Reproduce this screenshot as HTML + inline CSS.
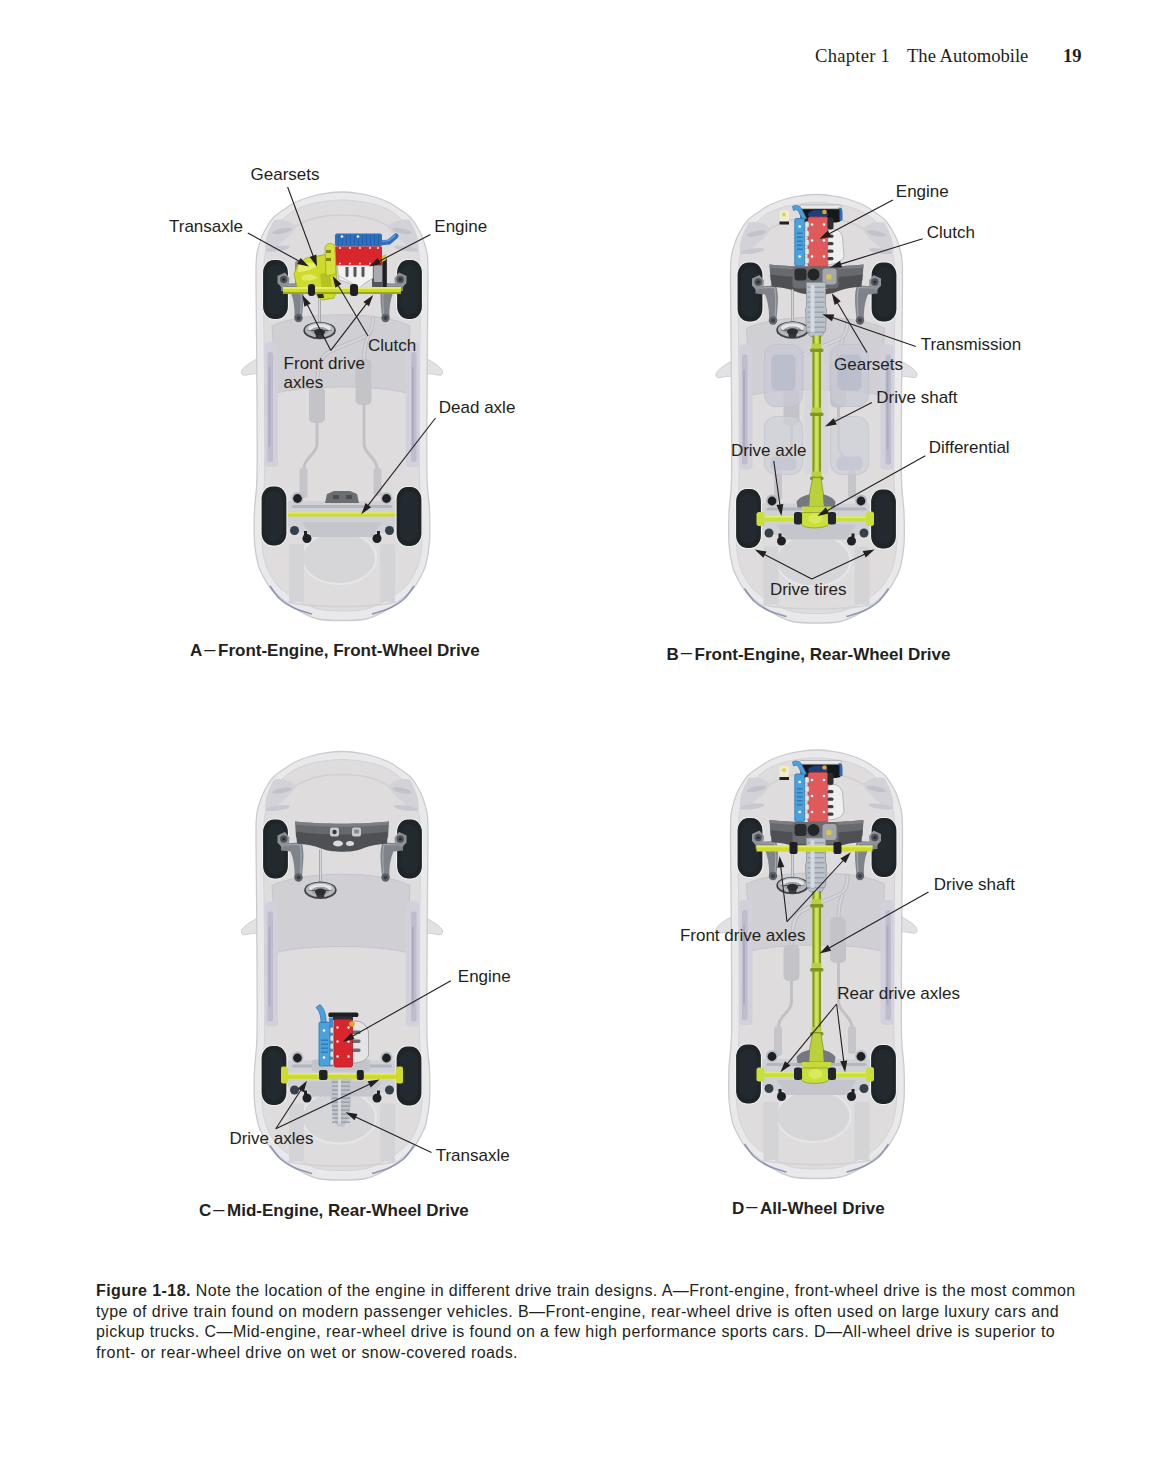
<!DOCTYPE html>
<html><head><meta charset="utf-8"><title>Chapter 1 The Automobile</title>
<style>
html,body{margin:0;padding:0;background:#fff;}
body{width:1156px;height:1479px;position:relative;overflow:hidden;font-family:"Liberation Sans",sans-serif;color:#231f20;}
.hdr{position:absolute;top:45px;font-family:"Liberation Serif",serif;font-size:18.6px;line-height:22px;white-space:nowrap;color:#231f20;}
.cap{position:absolute;left:96px;top:1281px;font-size:16px;line-height:20.6px;letter-spacing:0.42px;white-space:nowrap;color:#231f20;}
</style></head><body>
<div class="hdr" style="left:815px;letter-spacing:0.25px">Chapter 1</div><div class="hdr" style="left:907px">The Automobile</div><div class="hdr" style="left:1063px;font-weight:bold">19</div>
<svg width="1156" height="1479" viewBox="0 0 1156 1479" style="position:absolute;left:0;top:0" font-family="Liberation Sans, sans-serif" fill="#231f20"><g transform="translate(342,192)"><path d="M-80,166 C-82,164.5 -88.7,169 -92,171 C-95.3,173 -98.8,176 -100,178 C-101.2,180 -100.7,182.3 -99,183 C-97.3,183.7 -93.2,182.5 -90,182 C-86.8,181.5 -81.7,182.7 -80,180 C-78.3,177.3 -78,167.5 -80,166Z" fill="#e2e1e3" stroke="#cfcfd3" stroke-width="1"/><path d="M80,166 C82,164.5 88.7,169 92,171 C95.3,173 98.8,176 100,178 C101.2,180 100.7,182.3 99,183 C97.3,183.7 93.2,182.5 90,182 C86.8,181.5 81.7,182.7 80,180 C78.3,177.3 78,167.5 80,166Z" fill="#e2e1e3" stroke="#cfcfd3" stroke-width="1"/><path d="M0,0 C-5.3,0 -10.8,0.6 -16,1.3 C-21.2,2 -25.8,3 -31,4.5 C-36.2,6 -42.5,8.3 -47,10.5 C-51.5,12.7 -54.5,15.1 -58,17.5 C-61.5,19.9 -65.3,22.4 -68,25 C-70.7,27.6 -72.2,30.2 -74,33 C-75.8,35.8 -77.6,39.1 -79,42 C-80.4,44.9 -81.3,47.8 -82.2,50.6 C-83.1,53.4 -83.9,56.1 -84.5,59 C-85.1,61.9 -85.5,62.8 -85.7,68 C-86,73.2 -86,78 -86,90 C-86,102 -85.7,120 -85.5,140 C-85.3,160 -85.1,185.8 -85,210 C-84.9,234.2 -84.6,267 -85,285 C-85.4,303 -87.1,307.2 -87.5,318 C-87.9,328.8 -88.1,341 -87.5,350 C-86.9,359 -85.4,366.3 -84,372 C-82.6,377.7 -81.2,379.8 -79,384 C-76.8,388.2 -74.5,393 -70.5,397.5 C-66.5,402 -59.9,407.2 -55,411 C-50.1,414.8 -46.2,417.3 -41,420 C-35.8,422.7 -30.8,425.6 -24,427 C-17.2,428.4 -8,428.5 0,428.5 C8,428.5 17.2,428.4 24,427 C30.8,425.6 35.8,422.7 41,420 C46.2,417.3 50.1,414.8 55,411 C59.9,407.2 66.5,402 70.5,397.5 C74.5,393 76.8,388.2 79,384 C81.2,379.8 82.6,377.7 84,372 C85.4,366.3 86.9,359 87.5,350 C88.1,341 87.9,328.8 87.5,318 C87.1,307.2 85.4,303 85,285 C84.6,267 84.9,234.2 85,210 C85.1,185.8 85.3,160 85.5,140 C85.7,120 86,102 86,90 C86,78 86,73.2 85.7,68 C85.5,62.8 85.1,61.9 84.5,59 C83.9,56.1 83.1,53.4 82.2,50.6 C81.3,47.8 80.4,44.9 79,42 C77.6,39.1 75.8,35.8 74,33 C72.2,30.2 70.7,27.6 68,25 C65.3,22.4 61.5,19.9 58,17.5 C54.5,15.1 51.5,12.7 47,10.5 C42.5,8.3 36.2,6 31,4.5 C25.8,3 21.2,2 16,1.3 C10.8,0.6 5.3,0 0,0Z" fill="#e9e8ea" stroke="#cbcbcf" stroke-width="1.3"/><path d="M0,8 C-6,8 -12.5,8.8 -18,9.5 C-23.5,10.2 -28.2,11.1 -33,12.5 C-37.8,13.9 -42.8,15.8 -47,18 C-51.2,20.2 -54.8,23.2 -58,26 C-61.2,28.8 -63.7,31.7 -66,35 C-68.3,38.3 -70.3,42.2 -72,46 C-73.7,49.8 -75,53.7 -76,58 C-77,62.3 -77.5,65.8 -78,72 C-78.5,78.2 -79,83.7 -79,95 C-79,106.3 -78.2,120.8 -78,140 C-77.8,159.2 -77.6,185.8 -77.5,210 C-77.4,234.2 -77.1,267 -77.5,285 C-77.9,303 -79.6,307.2 -80,318 C-80.4,328.8 -80.5,341.3 -80,350 C-79.5,358.7 -78.5,364.3 -77,370 C-75.5,375.7 -73.3,379.8 -71,384 C-68.7,388.2 -66.5,391.5 -63,395 C-59.5,398.5 -54.3,402.2 -50,405 C-45.7,407.8 -41.7,409.9 -37,412 C-32.3,414.1 -28.2,416.3 -22,417.5 C-15.8,418.7 -7.3,419 0,419 C7.3,419 15.8,418.7 22,417.5 C28.2,416.3 32.3,414.1 37,412 C41.7,409.9 45.7,407.8 50,405 C54.3,402.2 59.5,398.5 63,395 C66.5,391.5 68.7,388.2 71,384 C73.3,379.8 75.5,375.7 77,370 C78.5,364.3 79.5,358.7 80,350 C80.5,341.3 80.4,328.8 80,318 C79.6,307.2 77.9,303 77.5,285 C77.1,267 77.4,234.2 77.5,210 C77.6,185.8 77.8,159.2 78,140 C78.2,120.8 79,106.3 79,95 C79,83.7 78.5,78.2 78,72 C77.5,65.8 77,62.3 76,58 C75,53.7 73.7,49.8 72,46 C70.3,42.2 68.3,38.3 66,35 C63.7,31.7 61.2,28.8 58,26 C54.8,23.2 51.2,20.2 47,18 C42.8,15.8 37.8,13.9 33,12.5 C28.2,11.1 23.5,10.2 18,9.5 C12.5,8.8 6,8 0,8Z" fill="#dedcdd" stroke="#d3d2d6" stroke-width="1"/><path d="M-68,58 C-65.3,54.7 -58.8,43.3 -52,38 C-45.2,32.7 -35.7,28.5 -27,26 C-18.3,23.5 -9,23 0,23 C9,23 18.3,23.5 27,26 C35.7,28.5 45.2,32.7 52,38 C58.8,43.3 65.3,54.7 68,58" fill="none" stroke="#d0cfd3" stroke-width="1.5"/><path d="M-68,28 C-60,26 -50,29 -46,35 C-50,42 -58,50 -76,60 C-78,54 -76,44 -72,36 Z" fill="#d3d2d8" /><ellipse cx="-60" cy="39" rx="10" ry="2.6" fill="#c3c2cb" transform="rotate(-12 -60 39)"/><ellipse cx="-64" cy="56.5" rx="12" ry="2.6" fill="#c9c8d0" transform="rotate(-8 -64 56.5)"/><path d="M68,28 C60,26 50,29 46,35 C50,42 58,50 76,60 C78,54 76,44 72,36 Z" fill="#d3d2d8" /><ellipse cx="60" cy="39" rx="10" ry="2.6" fill="#c3c2cb" transform="rotate(12 60 39)"/><ellipse cx="64" cy="56.5" rx="12" ry="2.6" fill="#c9c8d0" transform="rotate(8 64 56.5)"/><path d="M-70,134 C-40,119 40,119 68,134 L65,201 C35,193 -35,193 -66,201 Z" fill="#d0cfd3" stroke="#c6c5ca" stroke-width="1"/><rect x="-77" y="150" width="13" height="125" rx="4" fill="#d1d0db" /><rect x="-74.5" y="160" width="5.5" height="110" rx="2.5" fill="#bebccd" /><rect x="-73.5" y="175" width="2" height="80" rx="1" fill="#aeabc2" /><rect x="64" y="150" width="13" height="125" rx="4" fill="#d1d0db" /><rect x="69" y="160" width="5.5" height="110" rx="2.5" fill="#bebccd" /><rect x="70" y="175" width="2" height="80" rx="1" fill="#aeabc2" /><ellipse cx="-3" cy="366" rx="37" ry="26" fill="#d6d5d8" stroke="#e6e6e8" stroke-width="2"/><rect x="-53" y="352" width="15" height="58" rx="2" fill="#d4d3d6" /><rect x="38" y="352" width="15" height="58" rx="2" fill="#d4d3d6" /><path d="M-72,394 C-70.3,396.2 -66,403.3 -62,407 C-58,410.7 -53.3,413.5 -48,416 C-42.7,418.5 -33,421 -30,422" fill="none" stroke="#7d87ac" stroke-width="1.6" opacity="0.85"/><path d="M72,394 C70.3,396.2 66,403.3 62,407 C58,410.7 53.3,413.5 48,416 C42.7,418.5 33,421 30,422" fill="none" stroke="#7d87ac" stroke-width="1.6" opacity="0.85"/><path d="M-54,410 C-30,416 30,416 54,410" fill="none" stroke="#d2d1d5" stroke-width="1.5"/><path d="M-25,196 C-25,180 -22,166 -16,162 C-8,156 12,150 24,144 C30,141 31,134 31,126" fill="none" stroke="#bdbcc2" stroke-width="4" stroke-linecap="round"/><path d="M-25,196 C-25,180 -22,166 -16,162 C-8,156 12,150 24,144 C30,141 31,134 31,126" fill="none" stroke="#d6d5d9" stroke-width="2" stroke-linecap="round"/><path d="M22,168 C22,158 24,150 26,145" fill="none" stroke="#bdbcc2" stroke-width="4" stroke-linecap="round"/><path d="M22,168 C22,158 24,150 26,145" fill="none" stroke="#d6d5d9" stroke-width="2" stroke-linecap="round"/><rect x="-33" y="195" width="16" height="36" rx="5" fill="#c4c3c7" /><rect x="13.5" y="167" width="16" height="46" rx="5" fill="#c4c3c7" /><path d="M-25,231 L-25,252 C-25,262 -38,266 -38,276" fill="none" stroke="#c2c1c5" stroke-width="3" stroke-linecap="round"/><path d="M22,213 L22,252 C22,262 35,266 35,276" fill="none" stroke="#c2c1c5" stroke-width="3" stroke-linecap="round"/><rect x="-42.5" y="276" width="8" height="30" rx="3" fill="#c6c5c9" /><rect x="31.5" y="276" width="8" height="28" rx="3" fill="#c6c5c9" /><path d="M-55,309 L55,309 L57,318 L57,334 L40,341 L-40,341 L-57,334 L-57,318 Z" fill="#cfd1d6" /><path d="M-40,330 L40,330 L30,345 L-30,345 Z" fill="#c4c6cc" /><rect x="-50" y="313" width="100" height="3" rx="1.5" fill="#b3b6bd" /><path d="M-17,311 L-15,302 L-8,299 L8,299 L15,302 L17,311 Z" fill="#6c6d71" /><rect x="-9" y="303" width="6" height="4" rx="0" fill="#4c4d51" /><rect x="4" y="303" width="6" height="4" rx="0" fill="#4c4d51" /><circle cx="-44.5" cy="306" r="6" fill="#b9bcc2" /><circle cx="-44.5" cy="306.5" r="4.4" fill="#1d2125" /><circle cx="-47.5" cy="338.5" r="4.5" fill="#34404a" /><circle cx="-35" cy="346.5" r="4.5" fill="#1d2125" /><rect x="-38" y="339" width="3" height="4" rx="0" fill="#1d2125" /><circle cx="44.5" cy="306" r="6" fill="#b9bcc2" /><circle cx="44.5" cy="306.5" r="4.4" fill="#1d2125" /><circle cx="47.5" cy="338.5" r="4.5" fill="#34404a" /><circle cx="35" cy="346.5" r="4.5" fill="#1d2125" /><rect x="35" y="339" width="3" height="4" rx="0" fill="#1d2125" /><rect x="-60" y="320.5" width="118" height="4" rx="0" fill="#cfdb2c" /><rect x="-60" y="320.5" width="118" height="1.3" rx="0" fill="#e4ec60" /><rect x="-79.5" y="67.5" width="26" height="60" rx="11" ry="13" fill="#1f2427" stroke="#eef2f2" stroke-width="1.2"/><rect x="-75.5" y="72.5" width="18" height="50" rx="8" ry="10" fill="#232a2f"/><rect x="54.5" y="67.5" width="26" height="60" rx="11" ry="13" fill="#1f2427" stroke="#eef2f2" stroke-width="1.2"/><rect x="58.5" y="72.5" width="18" height="50" rx="8" ry="10" fill="#232a2f"/><rect x="-81" y="294" width="26" height="60" rx="11" ry="13" fill="#1f2427" stroke="#eef2f2" stroke-width="1.2"/><rect x="-77" y="299" width="18" height="50" rx="8" ry="10" fill="#232a2f"/><rect x="54" y="294.5" width="26" height="60" rx="11" ry="13" fill="#1f2427" stroke="#eef2f2" stroke-width="1.2"/><rect x="58" y="299.5" width="18" height="50" rx="8" ry="10" fill="#232a2f"/><path d="M-61,92 L-40.5,91 C-37.5,99 -38.5,110 -40,124 L-44,129 L-47.5,125 C-47,116 -48.5,107 -51.5,100 L-61,99 Z" fill="#7f838a" /><path d="M-56,93.5 L-42,93 C-40,101 -40.5,110 -41.5,122" fill="none" stroke="#a3a6ac" stroke-width="1.2"/><circle cx="-43.5" cy="126" r="4.2" fill="#5f636a" /><circle cx="-43.5" cy="126" r="2" fill="#3b3e43" /><polygon points="-64.5,84 -57,80.5 -52.5,86 -53,93 -60,96 -64.5,91" fill="#8e9197" /><circle cx="-58.3" cy="87.5" r="3.7" fill="#4f5358" /><circle cx="-58.3" cy="87.5" r="1.6" fill="#2a2d30" /><path d="M61,92 L40.5,91 C37.5,99 38.5,110 40,124 L44,129 L47.5,125 C47,116 48.5,107 51.5,100 L61,99 Z" fill="#7f838a" /><path d="M56,93.5 L42,93 C40,101 40.5,110 41.5,122" fill="none" stroke="#a3a6ac" stroke-width="1.2"/><circle cx="43.5" cy="126" r="4.2" fill="#5f636a" /><circle cx="43.5" cy="126" r="2" fill="#3b3e43" /><polygon points="64.5,84 57,80.5 52.5,86 53,93 60,96 64.5,91" fill="#8e9197" /><circle cx="58.3" cy="87.5" r="3.7" fill="#4f5358" /><circle cx="58.3" cy="87.5" r="1.6" fill="#2a2d30" /><rect x="-23.7" y="98" width="2.6" height="34.5" rx="0" fill="#a2a4a8" /><rect x="-22.8" y="98" width="0.8" height="34.5" rx="0" fill="#e2e3e5" /><ellipse cx="-22.4" cy="138.5" rx="16.2" ry="8.8" fill="#3e4145" /><ellipse cx="-22.4" cy="138" rx="14.6" ry="7.4" fill="#b4b6b9" /><ellipse cx="-22.4" cy="136.3" rx="11.5" ry="4.2" fill="#e4e5e6" /><ellipse cx="-22.4" cy="139" rx="9" ry="4" fill="#9ea0a4" /><path d="M-35.4,139 L-27.4,138 L-25.9,146 L-18.9,146 L-17.4,138 L-9.4,139 Z" fill="#34373b" /><ellipse cx="-22.4" cy="140" rx="5.5" ry="3.2" fill="#2a2d31" /><rect x="-47" y="69" width="11" height="24" rx="2" fill="#8a8c92" /><rect x="30" y="66" width="15" height="30" rx="2" fill="#55575b" /><rect x="32" y="72" width="8" height="18" rx="1" fill="#a9abb0" /><rect x="41" y="66" width="3.5" height="30" rx="1" fill="#1f2124" /><path d="M40,64 L44,62 L44,68 L40,70 Z" fill="#d8c81c" /><path d="M38,51 L47,50 L54,44" fill="none" stroke="#2e6fc2" stroke-width="5" stroke-linecap="round" stroke-linejoin="round"/><path d="M39,49.5 L47,48.5 L53,43.5" fill="none" stroke="#6fa0e0" stroke-width="1.2" stroke-linecap="round"/><rect x="-7" y="41.5" width="47" height="13" rx="2" fill="#2e6fc2" /><rect x="-4" y="43" width="1" height="10" rx="0" fill="#255ea8" /><rect x="0" y="43" width="1" height="10" rx="0" fill="#255ea8" /><rect x="4" y="43" width="1" height="10" rx="0" fill="#255ea8" /><rect x="8" y="43" width="1" height="10" rx="0" fill="#255ea8" /><rect x="12" y="43" width="1" height="10" rx="0" fill="#255ea8" /><rect x="16" y="43" width="1" height="10" rx="0" fill="#255ea8" /><rect x="20" y="43" width="1" height="10" rx="0" fill="#255ea8" /><rect x="24" y="43" width="1" height="10" rx="0" fill="#255ea8" /><rect x="28" y="43" width="1" height="10" rx="0" fill="#255ea8" /><rect x="32" y="43" width="1" height="10" rx="0" fill="#255ea8" /><rect x="36" y="43" width="1" height="10" rx="0" fill="#255ea8" /><circle cx="0" cy="44.5" r="1.2" fill="#fff" /><circle cx="16" cy="44.5" r="1.2" fill="#fff" /><rect x="-7" y="54.5" width="47" height="19" rx="1" fill="#d8262d" /><circle cx="-2" cy="56" r="1.1" fill="#fbd0d0" /><circle cx="-2" cy="71.5" r="1.1" fill="#fbd0d0" /><circle cx="8" cy="56" r="1.1" fill="#fbd0d0" /><circle cx="8" cy="71.5" r="1.1" fill="#fbd0d0" /><circle cx="18" cy="56" r="1.1" fill="#fbd0d0" /><circle cx="18" cy="71.5" r="1.1" fill="#fbd0d0" /><circle cx="28" cy="56" r="1.1" fill="#fbd0d0" /><circle cx="28" cy="71.5" r="1.1" fill="#fbd0d0" /><circle cx="36" cy="56" r="1.1" fill="#fbd0d0" /><circle cx="36" cy="71.5" r="1.1" fill="#fbd0d0" /><path d="M-5,73.5 L31,73.5 L31,86 C26,90 20,92 16,98 C12,92 4,90 -3,88 Z" fill="#f2f2f3" stroke="#a8a8ac" stroke-width="0.8"/><path d="M3.5,75 L3.5,83 C3.5,86 6.5,86 6.5,83 L6.5,75 Z" fill="#55565a" /><path d="M11.5,75 L11.5,83 C11.5,86 14.5,86 14.5,83 L14.5,75 Z" fill="#55565a" /><path d="M19.5,75 L19.5,83 C19.5,86 22.5,86 22.5,83 L22.5,75 Z" fill="#55565a" /><path d="M-3,84 C4,88 10,90 16,96" fill="none" stroke="#c9c9cc" stroke-width="1"/><path d="M-7,60 L-5,96 L-8,106 L-20,108 L-28,101 L-36,96 L-45,95 L-48,82 L-44,72 L-36,66 L-24,64 L-14,62 Z" fill="#cfdb2c" stroke="#9aa818" stroke-width="0.8"/><path d="M-44,74 C-38,70 -30,70 -24,73 C-30,78 -38,80 -44,80 Z" fill="#e6ee6a" /><path d="M-40,84 C-34,81 -28,82 -24,86 C-30,89 -36,89 -40,88 Z" fill="#e2ea60" /><path d="M-22,82 L-12,80 L-10,96 L-20,99 Z" fill="#b6c21e" /><path d="M-26,97 L-20,96 L-18,106 L-24,106 Z" fill="#2a2e18" /><path d="M-17,56 C-17,51 -9,50 -7,54 L-6,82 L-16,84 Z" fill="#d6e03a" stroke="#9aa818" stroke-width="0.7"/><rect x="-16" y="58" width="5" height="3" rx="0" fill="#7d8a14" /><rect x="-16" y="66" width="5" height="3" rx="0" fill="#7d8a14" /><rect x="-59" y="95" width="118" height="7" rx="3" fill="#cfdb2c" /><rect x="-59" y="95" width="118" height="2" rx="0" fill="#e4ec60" /><rect x="-59" y="100" width="118" height="2" rx="0" fill="#9aa818" /><rect x="-34" y="92" width="7" height="12" rx="3" fill="#1d1f22" /><rect x="8" y="92" width="8" height="12" rx="3" fill="#1d1f22" /></g><g transform="translate(816.5,194.5)"><path d="M-80,166 C-82,164.5 -88.7,169 -92,171 C-95.3,173 -98.8,176 -100,178 C-101.2,180 -100.7,182.3 -99,183 C-97.3,183.7 -93.2,182.5 -90,182 C-86.8,181.5 -81.7,182.7 -80,180 C-78.3,177.3 -78,167.5 -80,166Z" fill="#e2e1e3" stroke="#cfcfd3" stroke-width="1"/><path d="M80,166 C82,164.5 88.7,169 92,171 C95.3,173 98.8,176 100,178 C101.2,180 100.7,182.3 99,183 C97.3,183.7 93.2,182.5 90,182 C86.8,181.5 81.7,182.7 80,180 C78.3,177.3 78,167.5 80,166Z" fill="#e2e1e3" stroke="#cfcfd3" stroke-width="1"/><path d="M0,0 C-5.3,0 -10.8,0.6 -16,1.3 C-21.2,2 -25.8,3 -31,4.5 C-36.2,6 -42.5,8.3 -47,10.5 C-51.5,12.7 -54.5,15.1 -58,17.5 C-61.5,19.9 -65.3,22.4 -68,25 C-70.7,27.6 -72.2,30.2 -74,33 C-75.8,35.8 -77.6,39.1 -79,42 C-80.4,44.9 -81.3,47.8 -82.2,50.6 C-83.1,53.4 -83.9,56.1 -84.5,59 C-85.1,61.9 -85.5,62.8 -85.7,68 C-86,73.2 -86,78 -86,90 C-86,102 -85.7,120 -85.5,140 C-85.3,160 -85.1,185.8 -85,210 C-84.9,234.2 -84.6,267 -85,285 C-85.4,303 -87.1,307.2 -87.5,318 C-87.9,328.8 -88.1,341 -87.5,350 C-86.9,359 -85.4,366.3 -84,372 C-82.6,377.7 -81.2,379.8 -79,384 C-76.8,388.2 -74.5,393 -70.5,397.5 C-66.5,402 -59.9,407.2 -55,411 C-50.1,414.8 -46.2,417.3 -41,420 C-35.8,422.7 -30.8,425.6 -24,427 C-17.2,428.4 -8,428.5 0,428.5 C8,428.5 17.2,428.4 24,427 C30.8,425.6 35.8,422.7 41,420 C46.2,417.3 50.1,414.8 55,411 C59.9,407.2 66.5,402 70.5,397.5 C74.5,393 76.8,388.2 79,384 C81.2,379.8 82.6,377.7 84,372 C85.4,366.3 86.9,359 87.5,350 C88.1,341 87.9,328.8 87.5,318 C87.1,307.2 85.4,303 85,285 C84.6,267 84.9,234.2 85,210 C85.1,185.8 85.3,160 85.5,140 C85.7,120 86,102 86,90 C86,78 86,73.2 85.7,68 C85.5,62.8 85.1,61.9 84.5,59 C83.9,56.1 83.1,53.4 82.2,50.6 C81.3,47.8 80.4,44.9 79,42 C77.6,39.1 75.8,35.8 74,33 C72.2,30.2 70.7,27.6 68,25 C65.3,22.4 61.5,19.9 58,17.5 C54.5,15.1 51.5,12.7 47,10.5 C42.5,8.3 36.2,6 31,4.5 C25.8,3 21.2,2 16,1.3 C10.8,0.6 5.3,0 0,0Z" fill="#e9e8ea" stroke="#cbcbcf" stroke-width="1.3"/><path d="M0,8 C-6,8 -12.5,8.8 -18,9.5 C-23.5,10.2 -28.2,11.1 -33,12.5 C-37.8,13.9 -42.8,15.8 -47,18 C-51.2,20.2 -54.8,23.2 -58,26 C-61.2,28.8 -63.7,31.7 -66,35 C-68.3,38.3 -70.3,42.2 -72,46 C-73.7,49.8 -75,53.7 -76,58 C-77,62.3 -77.5,65.8 -78,72 C-78.5,78.2 -79,83.7 -79,95 C-79,106.3 -78.2,120.8 -78,140 C-77.8,159.2 -77.6,185.8 -77.5,210 C-77.4,234.2 -77.1,267 -77.5,285 C-77.9,303 -79.6,307.2 -80,318 C-80.4,328.8 -80.5,341.3 -80,350 C-79.5,358.7 -78.5,364.3 -77,370 C-75.5,375.7 -73.3,379.8 -71,384 C-68.7,388.2 -66.5,391.5 -63,395 C-59.5,398.5 -54.3,402.2 -50,405 C-45.7,407.8 -41.7,409.9 -37,412 C-32.3,414.1 -28.2,416.3 -22,417.5 C-15.8,418.7 -7.3,419 0,419 C7.3,419 15.8,418.7 22,417.5 C28.2,416.3 32.3,414.1 37,412 C41.7,409.9 45.7,407.8 50,405 C54.3,402.2 59.5,398.5 63,395 C66.5,391.5 68.7,388.2 71,384 C73.3,379.8 75.5,375.7 77,370 C78.5,364.3 79.5,358.7 80,350 C80.5,341.3 80.4,328.8 80,318 C79.6,307.2 77.9,303 77.5,285 C77.1,267 77.4,234.2 77.5,210 C77.6,185.8 77.8,159.2 78,140 C78.2,120.8 79,106.3 79,95 C79,83.7 78.5,78.2 78,72 C77.5,65.8 77,62.3 76,58 C75,53.7 73.7,49.8 72,46 C70.3,42.2 68.3,38.3 66,35 C63.7,31.7 61.2,28.8 58,26 C54.8,23.2 51.2,20.2 47,18 C42.8,15.8 37.8,13.9 33,12.5 C28.2,11.1 23.5,10.2 18,9.5 C12.5,8.8 6,8 0,8Z" fill="#dedcdd" stroke="#d3d2d6" stroke-width="1"/><path d="M-68,58 C-65.3,54.7 -58.8,43.3 -52,38 C-45.2,32.7 -35.7,28.5 -27,26 C-18.3,23.5 -9,23 0,23 C9,23 18.3,23.5 27,26 C35.7,28.5 45.2,32.7 52,38 C58.8,43.3 65.3,54.7 68,58" fill="none" stroke="#d0cfd3" stroke-width="1.5"/><path d="M-68,28 C-60,26 -50,29 -46,35 C-50,42 -58,50 -76,60 C-78,54 -76,44 -72,36 Z" fill="#d3d2d8" /><ellipse cx="-60" cy="39" rx="10" ry="2.6" fill="#c3c2cb" transform="rotate(-12 -60 39)"/><ellipse cx="-64" cy="56.5" rx="12" ry="2.6" fill="#c9c8d0" transform="rotate(-8 -64 56.5)"/><path d="M68,28 C60,26 50,29 46,35 C50,42 58,50 76,60 C78,54 76,44 72,36 Z" fill="#d3d2d8" /><ellipse cx="60" cy="39" rx="10" ry="2.6" fill="#c3c2cb" transform="rotate(12 60 39)"/><ellipse cx="64" cy="56.5" rx="12" ry="2.6" fill="#c9c8d0" transform="rotate(8 64 56.5)"/><path d="M-70,134 C-40,119 40,119 68,134 L65,201 C35,193 -35,193 -66,201 Z" fill="#d0cfd3" stroke="#c6c5ca" stroke-width="1"/><rect x="-77" y="150" width="13" height="125" rx="4" fill="#d1d0db" /><rect x="-74.5" y="160" width="5.5" height="110" rx="2.5" fill="#bebccd" /><rect x="-73.5" y="175" width="2" height="80" rx="1" fill="#aeabc2" /><rect x="64" y="150" width="13" height="125" rx="4" fill="#d1d0db" /><rect x="69" y="160" width="5.5" height="110" rx="2.5" fill="#bebccd" /><rect x="70" y="175" width="2" height="80" rx="1" fill="#aeabc2" /><ellipse cx="-3" cy="366" rx="37" ry="26" fill="#d6d5d8" stroke="#e6e6e8" stroke-width="2"/><rect x="-53" y="352" width="15" height="58" rx="2" fill="#d4d3d6" /><rect x="38" y="352" width="15" height="58" rx="2" fill="#d4d3d6" /><path d="M-72,394 C-70.3,396.2 -66,403.3 -62,407 C-58,410.7 -53.3,413.5 -48,416 C-42.7,418.5 -33,421 -30,422" fill="none" stroke="#7d87ac" stroke-width="1.6" opacity="0.85"/><path d="M72,394 C70.3,396.2 66,403.3 62,407 C58,410.7 53.3,413.5 48,416 C42.7,418.5 33,421 30,422" fill="none" stroke="#7d87ac" stroke-width="1.6" opacity="0.85"/><path d="M-54,410 C-30,416 30,416 54,410" fill="none" stroke="#d2d1d5" stroke-width="1.5"/><path d="M-25,196 C-25,180 -22,166 -16,162 C-8,156 12,150 24,144 C30,141 31,134 31,126" fill="none" stroke="#bdbcc2" stroke-width="4" stroke-linecap="round"/><path d="M-25,196 C-25,180 -22,166 -16,162 C-8,156 12,150 24,144 C30,141 31,134 31,126" fill="none" stroke="#d6d5d9" stroke-width="2" stroke-linecap="round"/><path d="M22,168 C22,158 24,150 26,145" fill="none" stroke="#bdbcc2" stroke-width="4" stroke-linecap="round"/><path d="M22,168 C22,158 24,150 26,145" fill="none" stroke="#d6d5d9" stroke-width="2" stroke-linecap="round"/><rect x="-33" y="195" width="16" height="36" rx="5" fill="#c4c3c7" /><rect x="13.5" y="167" width="16" height="46" rx="5" fill="#c4c3c7" /><path d="M-25,231 L-25,252 C-25,262 -38,266 -38,276" fill="none" stroke="#c2c1c5" stroke-width="3" stroke-linecap="round"/><path d="M22,213 L22,252 C22,262 35,266 35,276" fill="none" stroke="#c2c1c5" stroke-width="3" stroke-linecap="round"/><rect x="-42.5" y="276" width="8" height="30" rx="3" fill="#c6c5c9" /><rect x="31.5" y="276" width="8" height="28" rx="3" fill="#c6c5c9" /><rect x="-52" y="150" width="38" height="62" rx="12" fill="#c9cad6" opacity="0.75" stroke="#bfc1cf" stroke-width="1.2"/><rect x="-45" y="160" width="24" height="36" rx="5" fill="#b7bbcb" opacity="0.8"/><rect x="-52" y="222" width="38" height="58" rx="12" fill="#cfd0da" opacity="0.7" stroke="#c2c3d0" stroke-width="1.2"/><rect x="-46" y="262" width="26" height="14" rx="5" fill="#c3c5d2" opacity="0.8"/><rect x="14" y="150" width="38" height="62" rx="12" fill="#c9cad6" opacity="0.75" stroke="#bfc1cf" stroke-width="1.2"/><rect x="21" y="160" width="24" height="36" rx="5" fill="#b7bbcb" opacity="0.8"/><rect x="14" y="222" width="38" height="58" rx="12" fill="#cfd0da" opacity="0.7" stroke="#c2c3d0" stroke-width="1.2"/><rect x="20" y="262" width="26" height="14" rx="5" fill="#c3c5d2" opacity="0.8"/><rect x="-12" y="150" width="24" height="130" rx="4" fill="#d3d4dc" opacity="0.6"/><path d="M-55,309 L55,309 L57,318 L57,334 L40,341 L-40,341 L-57,334 L-57,318 Z" fill="#cfd1d6" /><path d="M-40,330 L40,330 L30,345 L-30,345 Z" fill="#c4c6cc" /><rect x="-50" y="313" width="100" height="3" rx="1.5" fill="#b3b6bd" /><circle cx="-44.5" cy="306" r="6" fill="#b9bcc2" /><circle cx="-44.5" cy="306.5" r="4.4" fill="#1d2125" /><circle cx="-47.5" cy="338.5" r="4.5" fill="#34404a" /><circle cx="-35" cy="346.5" r="4.5" fill="#1d2125" /><rect x="-38" y="339" width="3" height="4" rx="0" fill="#1d2125" /><circle cx="44.5" cy="306" r="6" fill="#b9bcc2" /><circle cx="44.5" cy="306.5" r="4.4" fill="#1d2125" /><circle cx="47.5" cy="338.5" r="4.5" fill="#34404a" /><circle cx="35" cy="346.5" r="4.5" fill="#1d2125" /><rect x="35" y="339" width="3" height="4" rx="0" fill="#1d2125" /><rect x="-79.5" y="67.5" width="26" height="60" rx="11" ry="13" fill="#1f2427" stroke="#eef2f2" stroke-width="1.2"/><rect x="-75.5" y="72.5" width="18" height="50" rx="8" ry="10" fill="#232a2f"/><rect x="54.5" y="67.5" width="26" height="60" rx="11" ry="13" fill="#1f2427" stroke="#eef2f2" stroke-width="1.2"/><rect x="58.5" y="72.5" width="18" height="50" rx="8" ry="10" fill="#232a2f"/><rect x="-81" y="294" width="26" height="60" rx="11" ry="13" fill="#1f2427" stroke="#eef2f2" stroke-width="1.2"/><rect x="-77" y="299" width="18" height="50" rx="8" ry="10" fill="#232a2f"/><rect x="54" y="294.5" width="26" height="60" rx="11" ry="13" fill="#1f2427" stroke="#eef2f2" stroke-width="1.2"/><rect x="58" y="299.5" width="18" height="50" rx="8" ry="10" fill="#232a2f"/><path d="M-61,92 L-40.5,91 C-37.5,99 -38.5,110 -40,124 L-44,129 L-47.5,125 C-47,116 -48.5,107 -51.5,100 L-61,99 Z" fill="#7f838a" /><path d="M-56,93.5 L-42,93 C-40,101 -40.5,110 -41.5,122" fill="none" stroke="#a3a6ac" stroke-width="1.2"/><circle cx="-43.5" cy="126" r="4.2" fill="#5f636a" /><circle cx="-43.5" cy="126" r="2" fill="#3b3e43" /><polygon points="-64.5,84 -57,80.5 -52.5,86 -53,93 -60,96 -64.5,91" fill="#8e9197" /><circle cx="-58.3" cy="87.5" r="3.7" fill="#4f5358" /><circle cx="-58.3" cy="87.5" r="1.6" fill="#2a2d30" /><path d="M61,92 L40.5,91 C37.5,99 38.5,110 40,124 L44,129 L47.5,125 C47,116 48.5,107 51.5,100 L61,99 Z" fill="#7f838a" /><path d="M56,93.5 L42,93 C40,101 40.5,110 41.5,122" fill="none" stroke="#a3a6ac" stroke-width="1.2"/><circle cx="43.5" cy="126" r="4.2" fill="#5f636a" /><circle cx="43.5" cy="126" r="2" fill="#3b3e43" /><polygon points="64.5,84 57,80.5 52.5,86 53,93 60,96 64.5,91" fill="#8e9197" /><circle cx="58.3" cy="87.5" r="3.7" fill="#4f5358" /><circle cx="58.3" cy="87.5" r="1.6" fill="#2a2d30" /><path d="M-47,70 C-20,73 20,73 47,70 L46,86 C20,89 -20,89 -46,86 Z" fill="#68696d" /><path d="M-46,80 C-20,84 20,84 46,80 L45,92 C33,93 25,95 18,98 C10,101 -10,101 -18,98 C-25,95 -33,93 -45,92 Z" fill="#4f5054" /><path d="M-47,70 C-20,73 20,73 47,70 L47,73 C20,76 -20,76 -47,73 Z" fill="#7d7e82" /><rect x="-12" y="76" width="9" height="9" rx="2" fill="#c9cacd" /><circle cx="-7.5" cy="80.5" r="2.2" fill="#35373a" /><rect x="10" y="76" width="9" height="9" rx="2" fill="#c9cacd" /><rect x="12" y="78" width="5" height="4" rx="1" fill="#8a8b8f" /><ellipse cx="-4" cy="92" rx="5" ry="3" fill="#dadbdd" /><ellipse cx="8" cy="92" rx="4" ry="2.5" fill="#dadbdd" /><rect x="-25.3" y="95" width="2.6" height="34.5" rx="0" fill="#a2a4a8" /><rect x="-24.4" y="95" width="0.8" height="34.5" rx="0" fill="#e2e3e5" /><ellipse cx="-24" cy="135.5" rx="16.2" ry="8.8" fill="#3e4145" /><ellipse cx="-24" cy="135" rx="14.6" ry="7.4" fill="#b4b6b9" /><ellipse cx="-24" cy="133.3" rx="11.5" ry="4.2" fill="#e4e5e6" /><ellipse cx="-24" cy="136" rx="9" ry="4" fill="#9ea0a4" /><path d="M-37,136 L-29,135 L-27.5,143 L-20.5,143 L-19,135 L-11,136 Z" fill="#34373b" /><ellipse cx="-24" cy="137" rx="5.5" ry="3.2" fill="#2a2d31" /><path d="M-16,14 L25,14 L25,24 C25,27 22,28 18,28 L-11,28 C-14,28 -16,26 -16,23 Z" fill="#15181b" /><rect x="-17" y="10.5" width="42" height="3.8" rx="1.9" fill="#e9e9eb" stroke="#9c9ca0" stroke-width="0.6"/><path d="M22,13 C26,13 26,16 26,20 L26,26 L23,26 L23,16 Z" fill="#2d6cb8" /><rect x="-37" y="16" width="9.5" height="11" rx="1" fill="#efecd2" /><circle cx="-32.5" cy="20" r="2" fill="#e2d44a" /><rect x="-37" y="27" width="9.5" height="3" rx="0" fill="#222" /><path d="M-24,12 C-21,10 -17,11 -15,14 L-11,22 L-10,24 L-14,25 L-18,17 C-19,15 -21,15 -23,16 Z" fill="#4aa2dc" stroke="#2c76b0" stroke-width="0.7"/><rect x="-21.7" y="24" width="9.8" height="47.5" rx="1.5" fill="#4aa2dc" stroke="#2c76b0" stroke-width="0.8"/><rect x="-19.5" y="38" width="5.5" height="1.5" rx="0" fill="#2e79b6" /><rect x="-19.5" y="42" width="5.5" height="1.5" rx="0" fill="#2e79b6" /><rect x="-19.5" y="46" width="5.5" height="1.5" rx="0" fill="#2e79b6" /><rect x="-19.5" y="50" width="5.5" height="1.5" rx="0" fill="#2e79b6" /><rect x="-19.5" y="54" width="5.5" height="1.5" rx="0" fill="#2e79b6" /><circle cx="-16.8" cy="32" r="1.3" fill="#fff" /><circle cx="-16.8" cy="62" r="1.3" fill="#fff" /><ellipse cx="1.5" cy="20" rx="10" ry="4.5" fill="#1f3f78" /><circle cx="8" cy="17.5" r="2.3" fill="#e3a32c" /><rect x="-8.5" y="22.5" width="20" height="49.5" rx="2" fill="#e05a5c" stroke="#b8383c" stroke-width="0.8"/><circle cx="-4.5" cy="30" r="1.3" fill="#fff" /><circle cx="7.5" cy="30" r="1.3" fill="#fff" /><circle cx="-4.5" cy="46" r="1.3" fill="#fff" /><circle cx="7.5" cy="46" r="1.3" fill="#fff" /><circle cx="-4.5" cy="62" r="1.3" fill="#fff" /><circle cx="7.5" cy="62" r="1.3" fill="#fff" /><rect x="-11.5" y="27" width="4" height="6" rx="1.5" fill="#e4e4e4" stroke="#9a9a9e" stroke-width="0.5"/><rect x="-11.5" y="36" width="4" height="6" rx="1.5" fill="#e4e4e4" stroke="#9a9a9e" stroke-width="0.5"/><rect x="-11.5" y="45" width="4" height="6" rx="1.5" fill="#e4e4e4" stroke="#9a9a9e" stroke-width="0.5"/><rect x="-11.5" y="54" width="4" height="6" rx="1.5" fill="#e4e4e4" stroke="#9a9a9e" stroke-width="0.5"/><rect x="-11.5" y="63" width="4" height="6" rx="1.5" fill="#e4e4e4" stroke="#9a9a9e" stroke-width="0.5"/><path d="M11.5,36 C18,32 24,36 26,42 L27.5,62 C25,68 18,70 11.5,70 Z" fill="#efeff0" stroke="#a9a9ad" stroke-width="0.8"/><rect x="11" y="40" width="6" height="3.2" rx="1.5" fill="#3d3e42" /><rect x="11" y="47.5" width="6" height="3.2" rx="1.5" fill="#3d3e42" /><rect x="11" y="55" width="6" height="3.2" rx="1.5" fill="#3d3e42" /><rect x="11" y="62.5" width="6" height="3.2" rx="1.5" fill="#3d3e42" /><rect x="11" y="23" width="6" height="12" rx="2.5" fill="#2b2d31" /><rect x="-24" y="72" width="46" height="22" rx="4" fill="#6a6c70" /><rect x="-22" y="74" width="12" height="12" rx="3" fill="#2b2d30" /><ellipse cx="-3" cy="80" rx="6" ry="6" fill="#232528" /><rect x="6" y="74" width="14" height="16" rx="3" fill="#a5a7ab" /><rect x="10" y="80" width="5" height="5" rx="1" fill="#d8c84a" /><path d="M-10,88 L9,88 L9,112 L10,114 L9,136 L5,142 L-6,142 L-10,136 L-11,114 L-10,112 Z" fill="#bcc2ca" stroke="#8c939c" stroke-width="0.8"/><rect x="-9" y="92" width="17" height="1.4" rx="0" fill="#9aa1aa" /><rect x="-9" y="97" width="17" height="1.4" rx="0" fill="#9aa1aa" /><rect x="-9" y="102" width="17" height="1.4" rx="0" fill="#9aa1aa" /><rect x="-9" y="107" width="17" height="1.4" rx="0" fill="#9aa1aa" /><rect x="-9" y="112" width="17" height="1.4" rx="0" fill="#9aa1aa" /><rect x="-9" y="117" width="17" height="1.4" rx="0" fill="#9aa1aa" /><rect x="-9" y="122" width="17" height="1.4" rx="0" fill="#9aa1aa" /><rect x="-9" y="127" width="17" height="1.4" rx="0" fill="#9aa1aa" /><rect x="-9" y="132" width="17" height="1.4" rx="0" fill="#9aa1aa" /><rect x="-9" y="137" width="17" height="1.4" rx="0" fill="#9aa1aa" /><rect x="-6" y="90" width="4" height="48" rx="1.5" fill="#d4d9df" /><rect x="-4" y="141" width="8.5" height="149" rx="2" fill="#bcd03c" /><rect x="-4" y="141" width="1.8" height="149" rx="0" fill="#7d952a" /><rect x="2.7" y="141" width="1.8" height="149" rx="0" fill="#7d952a" /><rect x="-1.2" y="141" width="2.5" height="149" rx="0" fill="#d2e262" /><rect x="-6.5" y="154" width="13.5" height="3.5" rx="1.5" fill="#7d952a" /><rect x="-5" y="149" width="10" height="5" rx="1.5" fill="#bcd03c" /><rect x="-6.5" y="218" width="13.5" height="3.5" rx="1.5" fill="#7d952a" /><rect x="-5" y="213" width="10" height="5" rx="1.5" fill="#bcd03c" /><rect x="-6.5" y="282" width="13.5" height="3.5" rx="1.5" fill="#7d952a" /><rect x="-5" y="277" width="10" height="5" rx="1.5" fill="#bcd03c" /><path d="M-3.8,283 L4.3,283 L7,300 L8,312 L-8,312 L-7,300 Z" fill="#bcd03c" stroke="#7d952a" stroke-width="0.8"/><path d="M-20,307 C-16,302 -10,300 -6.5,300 L-7.5,313 L-19,313 Z" fill="#737881" /><path d="M19,307 C15,302 9,300 6.5,300 L7.5,313 L18,313 Z" fill="#737881" /><path d="M-14.8,312 C-14.8,316 -12,318 -12,319 L12,319 C12,318 14.8,316 14.8,312 Z" fill="#c6da3a" /><path d="M-14.8,318 L11.5,318 L12,330 C10,334 -12,335 -14.8,330 Z" fill="#cadf3c" stroke="#8ca024" stroke-width="0.8"/><ellipse cx="-1" cy="324" rx="7" ry="5" fill="#d8ea5a" /><rect x="-52" y="321.5" width="30" height="5.5" rx="0" fill="#cadf3c" /><rect x="19" y="322" width="30" height="5" rx="0" fill="#cadf3c" /><rect x="-52" y="321.5" width="30" height="1.6" rx="0" fill="#e0ee70" /><rect x="19" y="322" width="30" height="1.6" rx="0" fill="#e0ee70" /><rect x="-22.5" y="317.5" width="8" height="12.5" rx="2.5" fill="#22262b" /><rect x="11.5" y="317.5" width="8" height="12.5" rx="2.5" fill="#22262b" /><rect x="-60" y="317.5" width="8" height="14" rx="2.5" fill="#cadf3c" /><rect x="49.5" y="317" width="8" height="14.5" rx="2.5" fill="#cadf3c" /></g><g transform="translate(342,751.5)"><path d="M-80,166 C-82,164.5 -88.7,169 -92,171 C-95.3,173 -98.8,176 -100,178 C-101.2,180 -100.7,182.3 -99,183 C-97.3,183.7 -93.2,182.5 -90,182 C-86.8,181.5 -81.7,182.7 -80,180 C-78.3,177.3 -78,167.5 -80,166Z" fill="#e2e1e3" stroke="#cfcfd3" stroke-width="1"/><path d="M80,166 C82,164.5 88.7,169 92,171 C95.3,173 98.8,176 100,178 C101.2,180 100.7,182.3 99,183 C97.3,183.7 93.2,182.5 90,182 C86.8,181.5 81.7,182.7 80,180 C78.3,177.3 78,167.5 80,166Z" fill="#e2e1e3" stroke="#cfcfd3" stroke-width="1"/><path d="M0,0 C-5.3,0 -10.8,0.6 -16,1.3 C-21.2,2 -25.8,3 -31,4.5 C-36.2,6 -42.5,8.3 -47,10.5 C-51.5,12.7 -54.5,15.1 -58,17.5 C-61.5,19.9 -65.3,22.4 -68,25 C-70.7,27.6 -72.2,30.2 -74,33 C-75.8,35.8 -77.6,39.1 -79,42 C-80.4,44.9 -81.3,47.8 -82.2,50.6 C-83.1,53.4 -83.9,56.1 -84.5,59 C-85.1,61.9 -85.5,62.8 -85.7,68 C-86,73.2 -86,78 -86,90 C-86,102 -85.7,120 -85.5,140 C-85.3,160 -85.1,185.8 -85,210 C-84.9,234.2 -84.6,267 -85,285 C-85.4,303 -87.1,307.2 -87.5,318 C-87.9,328.8 -88.1,341 -87.5,350 C-86.9,359 -85.4,366.3 -84,372 C-82.6,377.7 -81.2,379.8 -79,384 C-76.8,388.2 -74.5,393 -70.5,397.5 C-66.5,402 -59.9,407.2 -55,411 C-50.1,414.8 -46.2,417.3 -41,420 C-35.8,422.7 -30.8,425.6 -24,427 C-17.2,428.4 -8,428.5 0,428.5 C8,428.5 17.2,428.4 24,427 C30.8,425.6 35.8,422.7 41,420 C46.2,417.3 50.1,414.8 55,411 C59.9,407.2 66.5,402 70.5,397.5 C74.5,393 76.8,388.2 79,384 C81.2,379.8 82.6,377.7 84,372 C85.4,366.3 86.9,359 87.5,350 C88.1,341 87.9,328.8 87.5,318 C87.1,307.2 85.4,303 85,285 C84.6,267 84.9,234.2 85,210 C85.1,185.8 85.3,160 85.5,140 C85.7,120 86,102 86,90 C86,78 86,73.2 85.7,68 C85.5,62.8 85.1,61.9 84.5,59 C83.9,56.1 83.1,53.4 82.2,50.6 C81.3,47.8 80.4,44.9 79,42 C77.6,39.1 75.8,35.8 74,33 C72.2,30.2 70.7,27.6 68,25 C65.3,22.4 61.5,19.9 58,17.5 C54.5,15.1 51.5,12.7 47,10.5 C42.5,8.3 36.2,6 31,4.5 C25.8,3 21.2,2 16,1.3 C10.8,0.6 5.3,0 0,0Z" fill="#e9e8ea" stroke="#cbcbcf" stroke-width="1.3"/><path d="M0,8 C-6,8 -12.5,8.8 -18,9.5 C-23.5,10.2 -28.2,11.1 -33,12.5 C-37.8,13.9 -42.8,15.8 -47,18 C-51.2,20.2 -54.8,23.2 -58,26 C-61.2,28.8 -63.7,31.7 -66,35 C-68.3,38.3 -70.3,42.2 -72,46 C-73.7,49.8 -75,53.7 -76,58 C-77,62.3 -77.5,65.8 -78,72 C-78.5,78.2 -79,83.7 -79,95 C-79,106.3 -78.2,120.8 -78,140 C-77.8,159.2 -77.6,185.8 -77.5,210 C-77.4,234.2 -77.1,267 -77.5,285 C-77.9,303 -79.6,307.2 -80,318 C-80.4,328.8 -80.5,341.3 -80,350 C-79.5,358.7 -78.5,364.3 -77,370 C-75.5,375.7 -73.3,379.8 -71,384 C-68.7,388.2 -66.5,391.5 -63,395 C-59.5,398.5 -54.3,402.2 -50,405 C-45.7,407.8 -41.7,409.9 -37,412 C-32.3,414.1 -28.2,416.3 -22,417.5 C-15.8,418.7 -7.3,419 0,419 C7.3,419 15.8,418.7 22,417.5 C28.2,416.3 32.3,414.1 37,412 C41.7,409.9 45.7,407.8 50,405 C54.3,402.2 59.5,398.5 63,395 C66.5,391.5 68.7,388.2 71,384 C73.3,379.8 75.5,375.7 77,370 C78.5,364.3 79.5,358.7 80,350 C80.5,341.3 80.4,328.8 80,318 C79.6,307.2 77.9,303 77.5,285 C77.1,267 77.4,234.2 77.5,210 C77.6,185.8 77.8,159.2 78,140 C78.2,120.8 79,106.3 79,95 C79,83.7 78.5,78.2 78,72 C77.5,65.8 77,62.3 76,58 C75,53.7 73.7,49.8 72,46 C70.3,42.2 68.3,38.3 66,35 C63.7,31.7 61.2,28.8 58,26 C54.8,23.2 51.2,20.2 47,18 C42.8,15.8 37.8,13.9 33,12.5 C28.2,11.1 23.5,10.2 18,9.5 C12.5,8.8 6,8 0,8Z" fill="#dedcdd" stroke="#d3d2d6" stroke-width="1"/><path d="M-68,58 C-65.3,54.7 -58.8,43.3 -52,38 C-45.2,32.7 -35.7,28.5 -27,26 C-18.3,23.5 -9,23 0,23 C9,23 18.3,23.5 27,26 C35.7,28.5 45.2,32.7 52,38 C58.8,43.3 65.3,54.7 68,58" fill="none" stroke="#d0cfd3" stroke-width="1.5"/><path d="M-68,28 C-60,26 -50,29 -46,35 C-50,42 -58,50 -76,60 C-78,54 -76,44 -72,36 Z" fill="#d3d2d8" /><ellipse cx="-60" cy="39" rx="10" ry="2.6" fill="#c3c2cb" transform="rotate(-12 -60 39)"/><ellipse cx="-64" cy="56.5" rx="12" ry="2.6" fill="#c9c8d0" transform="rotate(-8 -64 56.5)"/><path d="M68,28 C60,26 50,29 46,35 C50,42 58,50 76,60 C78,54 76,44 72,36 Z" fill="#d3d2d8" /><ellipse cx="60" cy="39" rx="10" ry="2.6" fill="#c3c2cb" transform="rotate(12 60 39)"/><ellipse cx="64" cy="56.5" rx="12" ry="2.6" fill="#c9c8d0" transform="rotate(8 64 56.5)"/><path d="M-70,134 C-40,119 40,119 68,134 L65,201 C35,193 -35,193 -66,201 Z" fill="#d0cfd3" stroke="#c6c5ca" stroke-width="1"/><rect x="-77" y="150" width="13" height="125" rx="4" fill="#d1d0db" /><rect x="-74.5" y="160" width="5.5" height="110" rx="2.5" fill="#bebccd" /><rect x="-73.5" y="175" width="2" height="80" rx="1" fill="#aeabc2" /><rect x="64" y="150" width="13" height="125" rx="4" fill="#d1d0db" /><rect x="69" y="160" width="5.5" height="110" rx="2.5" fill="#bebccd" /><rect x="70" y="175" width="2" height="80" rx="1" fill="#aeabc2" /><ellipse cx="-3" cy="366" rx="37" ry="26" fill="#d6d5d8" stroke="#e6e6e8" stroke-width="2"/><rect x="-53" y="352" width="15" height="58" rx="2" fill="#d4d3d6" /><rect x="38" y="352" width="15" height="58" rx="2" fill="#d4d3d6" /><path d="M-72,394 C-70.3,396.2 -66,403.3 -62,407 C-58,410.7 -53.3,413.5 -48,416 C-42.7,418.5 -33,421 -30,422" fill="none" stroke="#7d87ac" stroke-width="1.6" opacity="0.85"/><path d="M72,394 C70.3,396.2 66,403.3 62,407 C58,410.7 53.3,413.5 48,416 C42.7,418.5 33,421 30,422" fill="none" stroke="#7d87ac" stroke-width="1.6" opacity="0.85"/><path d="M-54,410 C-30,416 30,416 54,410" fill="none" stroke="#d2d1d5" stroke-width="1.5"/><path d="M-55,309 L55,309 L57,318 L57,334 L40,341 L-40,341 L-57,334 L-57,318 Z" fill="#cfd1d6" /><path d="M-40,330 L40,330 L30,345 L-30,345 Z" fill="#c4c6cc" /><rect x="-50" y="313" width="100" height="3" rx="1.5" fill="#b3b6bd" /><circle cx="-44.5" cy="306" r="6" fill="#b9bcc2" /><circle cx="-44.5" cy="306.5" r="4.4" fill="#1d2125" /><circle cx="-47.5" cy="338.5" r="4.5" fill="#34404a" /><circle cx="-35" cy="346.5" r="4.5" fill="#1d2125" /><rect x="-38" y="339" width="3" height="4" rx="0" fill="#1d2125" /><circle cx="44.5" cy="306" r="6" fill="#b9bcc2" /><circle cx="44.5" cy="306.5" r="4.4" fill="#1d2125" /><circle cx="47.5" cy="338.5" r="4.5" fill="#34404a" /><circle cx="35" cy="346.5" r="4.5" fill="#1d2125" /><rect x="35" y="339" width="3" height="4" rx="0" fill="#1d2125" /><rect x="-79.5" y="67.5" width="26" height="60" rx="11" ry="13" fill="#1f2427" stroke="#eef2f2" stroke-width="1.2"/><rect x="-75.5" y="72.5" width="18" height="50" rx="8" ry="10" fill="#232a2f"/><rect x="54.5" y="67.5" width="26" height="60" rx="11" ry="13" fill="#1f2427" stroke="#eef2f2" stroke-width="1.2"/><rect x="58.5" y="72.5" width="18" height="50" rx="8" ry="10" fill="#232a2f"/><rect x="-81" y="294" width="26" height="60" rx="11" ry="13" fill="#1f2427" stroke="#eef2f2" stroke-width="1.2"/><rect x="-77" y="299" width="18" height="50" rx="8" ry="10" fill="#232a2f"/><rect x="54" y="294.5" width="26" height="60" rx="11" ry="13" fill="#1f2427" stroke="#eef2f2" stroke-width="1.2"/><rect x="58" y="299.5" width="18" height="50" rx="8" ry="10" fill="#232a2f"/><path d="M-61,92 L-40.5,91 C-37.5,99 -38.5,110 -40,124 L-44,129 L-47.5,125 C-47,116 -48.5,107 -51.5,100 L-61,99 Z" fill="#7f838a" /><path d="M-56,93.5 L-42,93 C-40,101 -40.5,110 -41.5,122" fill="none" stroke="#a3a6ac" stroke-width="1.2"/><circle cx="-43.5" cy="126" r="4.2" fill="#5f636a" /><circle cx="-43.5" cy="126" r="2" fill="#3b3e43" /><polygon points="-64.5,84 -57,80.5 -52.5,86 -53,93 -60,96 -64.5,91" fill="#8e9197" /><circle cx="-58.3" cy="87.5" r="3.7" fill="#4f5358" /><circle cx="-58.3" cy="87.5" r="1.6" fill="#2a2d30" /><path d="M61,92 L40.5,91 C37.5,99 38.5,110 40,124 L44,129 L47.5,125 C47,116 48.5,107 51.5,100 L61,99 Z" fill="#7f838a" /><path d="M56,93.5 L42,93 C40,101 40.5,110 41.5,122" fill="none" stroke="#a3a6ac" stroke-width="1.2"/><circle cx="43.5" cy="126" r="4.2" fill="#5f636a" /><circle cx="43.5" cy="126" r="2" fill="#3b3e43" /><polygon points="64.5,84 57,80.5 52.5,86 53,93 60,96 64.5,91" fill="#8e9197" /><circle cx="58.3" cy="87.5" r="3.7" fill="#4f5358" /><circle cx="58.3" cy="87.5" r="1.6" fill="#2a2d30" /><path d="M-47,70 C-20,73 20,73 47,70 L46,86 C20,89 -20,89 -46,86 Z" fill="#68696d" /><path d="M-46,80 C-20,84 20,84 46,80 L45,92 C33,93 25,95 18,98 C10,101 -10,101 -18,98 C-25,95 -33,93 -45,92 Z" fill="#4f5054" /><path d="M-47,70 C-20,73 20,73 47,70 L47,73 C20,76 -20,76 -47,73 Z" fill="#7d7e82" /><rect x="-12" y="76" width="9" height="9" rx="2" fill="#c9cacd" /><circle cx="-7.5" cy="80.5" r="2.2" fill="#35373a" /><rect x="10" y="76" width="9" height="9" rx="2" fill="#c9cacd" /><rect x="12" y="78" width="5" height="4" rx="1" fill="#8a8b8f" /><ellipse cx="-4" cy="92" rx="5" ry="3" fill="#dadbdd" /><ellipse cx="8" cy="92" rx="4" ry="2.5" fill="#dadbdd" /><rect x="-22.9" y="98" width="2.6" height="34.8" rx="0" fill="#a2a4a8" /><rect x="-22" y="98" width="0.8" height="34.8" rx="0" fill="#e2e3e5" /><ellipse cx="-21.6" cy="138.8" rx="16.2" ry="8.8" fill="#3e4145" /><ellipse cx="-21.6" cy="138.3" rx="14.6" ry="7.4" fill="#b4b6b9" /><ellipse cx="-21.6" cy="136.6" rx="11.5" ry="4.2" fill="#e4e5e6" /><ellipse cx="-21.6" cy="139.3" rx="9" ry="4" fill="#9ea0a4" /><path d="M-34.6,139.3 L-26.6,138.3 L-25.1,146.3 L-18.1,146.3 L-16.6,138.3 L-8.6,139.3 Z" fill="#34373b" /><ellipse cx="-21.6" cy="140.3" rx="5.5" ry="3.2" fill="#2a2d31" /><rect x="-30" y="308" width="58" height="12" rx="2" fill="#c3c5ca" /><path d="M9,270 C18,268 24,272 26.5,280 L26.5,304 C24,310 16,312 9,311.5 Z" fill="#e4e4e6" stroke="#9a9b9f" stroke-width="0.8"/><path d="M10,279 L17,279 C19,279 19,282.5 17,282.5 L10,282.5 Z" fill="#6b6c70" /><path d="M10,288 L17,288 C19,288 19,291.5 17,291.5 L10,291.5 Z" fill="#6b6c70" /><path d="M10,297 L17,297 C19,297 19,300.5 17,300.5 L10,300.5 Z" fill="#6b6c70" /><rect x="-13.6" y="261" width="30" height="4.5" rx="1.5" fill="#1d1f22" /><rect x="-9" y="265" width="20" height="4" rx="1" fill="#2c2f34" /><rect x="-23" y="270.5" width="10.5" height="44" rx="1.5" fill="#4aa2dc" stroke="#2c76b0" stroke-width="0.8"/><rect x="-13" y="266" width="4" height="49" rx="0" fill="#3d8cc8" /><path d="M-21,271 C-21,263 -23,259 -26,256 L-22,253 C-18,257 -16,262 -16,271 Z" fill="#4aa2dc" stroke="#2c76b0" stroke-width="0.8"/><rect x="-21" y="288" width="7" height="1.4" rx="0" fill="#2e79b6" /><rect x="-21" y="292" width="7" height="1.4" rx="0" fill="#2e79b6" /><rect x="-21" y="296" width="7" height="1.4" rx="0" fill="#2e79b6" /><rect x="-21" y="300" width="7" height="1.4" rx="0" fill="#2e79b6" /><circle cx="-18" cy="279" r="1.3" fill="#fff" /><circle cx="-18" cy="306" r="1.3" fill="#fff" /><rect x="-11.7" y="276" width="3.7" height="5.5" rx="1.5" fill="#e2e2e2" stroke="#9a9a9e" stroke-width="0.5"/><rect x="-11.7" y="284" width="3.7" height="5.5" rx="1.5" fill="#e2e2e2" stroke="#9a9a9e" stroke-width="0.5"/><rect x="-11.7" y="292" width="3.7" height="5.5" rx="1.5" fill="#e2e2e2" stroke="#9a9a9e" stroke-width="0.5"/><rect x="-11.7" y="300" width="3.7" height="5.5" rx="1.5" fill="#e2e2e2" stroke="#9a9a9e" stroke-width="0.5"/><rect x="-11.7" y="308" width="3.7" height="5.5" rx="1.5" fill="#e2e2e2" stroke="#9a9a9e" stroke-width="0.5"/><rect x="-8" y="268" width="18.5" height="47.5" rx="2" fill="#d8262d" stroke="#a81e24" stroke-width="0.8"/><circle cx="-4.5" cy="276" r="1.2" fill="#fff" /><circle cx="6.5" cy="276" r="1.2" fill="#fff" /><circle cx="-4.5" cy="290" r="1.2" fill="#fff" /><circle cx="6.5" cy="290" r="1.2" fill="#fff" /><circle cx="-4.5" cy="305" r="1.2" fill="#fff" /><circle cx="6.5" cy="305" r="1.2" fill="#fff" /><circle cx="10" cy="272.5" r="2.8" fill="#e3a32c" /><rect x="-58.5" y="321.5" width="117.5" height="6" rx="0" fill="#cfdb2c" /><rect x="-58.5" y="321.5" width="117.5" height="1.8" rx="0" fill="#e4ec60" /><rect x="-23" y="318.5" width="8.5" height="10" rx="2" fill="#1f2124" /><rect x="14.8" y="318.5" width="7" height="10" rx="2" fill="#1f2124" /><rect x="-61" y="315" width="7" height="17" rx="2" fill="#cfdb2c" /><rect x="54" y="315" width="7" height="17" rx="2" fill="#cfdb2c" /><path d="M-11.7,327 L9,327 L9,352 L6,368 L2,375 L-5,375 L-9,364 L-11,350 Z" fill="#bfc3ca" /><rect x="-10" y="330" width="18" height="1.3" rx="0" fill="#959aa3" /><rect x="-10" y="334" width="18" height="1.3" rx="0" fill="#959aa3" /><rect x="-10" y="338" width="18" height="1.3" rx="0" fill="#959aa3" /><rect x="-10" y="342" width="18" height="1.3" rx="0" fill="#959aa3" /><rect x="-10" y="346" width="18" height="1.3" rx="0" fill="#959aa3" /><rect x="-10" y="350" width="18" height="1.3" rx="0" fill="#959aa3" /><rect x="-10" y="354" width="18" height="1.3" rx="0" fill="#959aa3" /><rect x="-10" y="358" width="18" height="1.3" rx="0" fill="#959aa3" /><rect x="-10" y="362" width="18" height="1.3" rx="0" fill="#959aa3" /><rect x="-10" y="366" width="18" height="1.3" rx="0" fill="#959aa3" /><rect x="-10" y="370" width="18" height="1.3" rx="0" fill="#959aa3" /><rect x="-4" y="328" width="3" height="44" rx="1" fill="#d5d9de" /></g><g transform="translate(816.5,750)"><path d="M-80,166 C-82,164.5 -88.7,169 -92,171 C-95.3,173 -98.8,176 -100,178 C-101.2,180 -100.7,182.3 -99,183 C-97.3,183.7 -93.2,182.5 -90,182 C-86.8,181.5 -81.7,182.7 -80,180 C-78.3,177.3 -78,167.5 -80,166Z" fill="#e2e1e3" stroke="#cfcfd3" stroke-width="1"/><path d="M80,166 C82,164.5 88.7,169 92,171 C95.3,173 98.8,176 100,178 C101.2,180 100.7,182.3 99,183 C97.3,183.7 93.2,182.5 90,182 C86.8,181.5 81.7,182.7 80,180 C78.3,177.3 78,167.5 80,166Z" fill="#e2e1e3" stroke="#cfcfd3" stroke-width="1"/><path d="M0,0 C-5.3,0 -10.8,0.6 -16,1.3 C-21.2,2 -25.8,3 -31,4.5 C-36.2,6 -42.5,8.3 -47,10.5 C-51.5,12.7 -54.5,15.1 -58,17.5 C-61.5,19.9 -65.3,22.4 -68,25 C-70.7,27.6 -72.2,30.2 -74,33 C-75.8,35.8 -77.6,39.1 -79,42 C-80.4,44.9 -81.3,47.8 -82.2,50.6 C-83.1,53.4 -83.9,56.1 -84.5,59 C-85.1,61.9 -85.5,62.8 -85.7,68 C-86,73.2 -86,78 -86,90 C-86,102 -85.7,120 -85.5,140 C-85.3,160 -85.1,185.8 -85,210 C-84.9,234.2 -84.6,267 -85,285 C-85.4,303 -87.1,307.2 -87.5,318 C-87.9,328.8 -88.1,341 -87.5,350 C-86.9,359 -85.4,366.3 -84,372 C-82.6,377.7 -81.2,379.8 -79,384 C-76.8,388.2 -74.5,393 -70.5,397.5 C-66.5,402 -59.9,407.2 -55,411 C-50.1,414.8 -46.2,417.3 -41,420 C-35.8,422.7 -30.8,425.6 -24,427 C-17.2,428.4 -8,428.5 0,428.5 C8,428.5 17.2,428.4 24,427 C30.8,425.6 35.8,422.7 41,420 C46.2,417.3 50.1,414.8 55,411 C59.9,407.2 66.5,402 70.5,397.5 C74.5,393 76.8,388.2 79,384 C81.2,379.8 82.6,377.7 84,372 C85.4,366.3 86.9,359 87.5,350 C88.1,341 87.9,328.8 87.5,318 C87.1,307.2 85.4,303 85,285 C84.6,267 84.9,234.2 85,210 C85.1,185.8 85.3,160 85.5,140 C85.7,120 86,102 86,90 C86,78 86,73.2 85.7,68 C85.5,62.8 85.1,61.9 84.5,59 C83.9,56.1 83.1,53.4 82.2,50.6 C81.3,47.8 80.4,44.9 79,42 C77.6,39.1 75.8,35.8 74,33 C72.2,30.2 70.7,27.6 68,25 C65.3,22.4 61.5,19.9 58,17.5 C54.5,15.1 51.5,12.7 47,10.5 C42.5,8.3 36.2,6 31,4.5 C25.8,3 21.2,2 16,1.3 C10.8,0.6 5.3,0 0,0Z" fill="#e9e8ea" stroke="#cbcbcf" stroke-width="1.3"/><path d="M0,8 C-6,8 -12.5,8.8 -18,9.5 C-23.5,10.2 -28.2,11.1 -33,12.5 C-37.8,13.9 -42.8,15.8 -47,18 C-51.2,20.2 -54.8,23.2 -58,26 C-61.2,28.8 -63.7,31.7 -66,35 C-68.3,38.3 -70.3,42.2 -72,46 C-73.7,49.8 -75,53.7 -76,58 C-77,62.3 -77.5,65.8 -78,72 C-78.5,78.2 -79,83.7 -79,95 C-79,106.3 -78.2,120.8 -78,140 C-77.8,159.2 -77.6,185.8 -77.5,210 C-77.4,234.2 -77.1,267 -77.5,285 C-77.9,303 -79.6,307.2 -80,318 C-80.4,328.8 -80.5,341.3 -80,350 C-79.5,358.7 -78.5,364.3 -77,370 C-75.5,375.7 -73.3,379.8 -71,384 C-68.7,388.2 -66.5,391.5 -63,395 C-59.5,398.5 -54.3,402.2 -50,405 C-45.7,407.8 -41.7,409.9 -37,412 C-32.3,414.1 -28.2,416.3 -22,417.5 C-15.8,418.7 -7.3,419 0,419 C7.3,419 15.8,418.7 22,417.5 C28.2,416.3 32.3,414.1 37,412 C41.7,409.9 45.7,407.8 50,405 C54.3,402.2 59.5,398.5 63,395 C66.5,391.5 68.7,388.2 71,384 C73.3,379.8 75.5,375.7 77,370 C78.5,364.3 79.5,358.7 80,350 C80.5,341.3 80.4,328.8 80,318 C79.6,307.2 77.9,303 77.5,285 C77.1,267 77.4,234.2 77.5,210 C77.6,185.8 77.8,159.2 78,140 C78.2,120.8 79,106.3 79,95 C79,83.7 78.5,78.2 78,72 C77.5,65.8 77,62.3 76,58 C75,53.7 73.7,49.8 72,46 C70.3,42.2 68.3,38.3 66,35 C63.7,31.7 61.2,28.8 58,26 C54.8,23.2 51.2,20.2 47,18 C42.8,15.8 37.8,13.9 33,12.5 C28.2,11.1 23.5,10.2 18,9.5 C12.5,8.8 6,8 0,8Z" fill="#dedcdd" stroke="#d3d2d6" stroke-width="1"/><path d="M-68,58 C-65.3,54.7 -58.8,43.3 -52,38 C-45.2,32.7 -35.7,28.5 -27,26 C-18.3,23.5 -9,23 0,23 C9,23 18.3,23.5 27,26 C35.7,28.5 45.2,32.7 52,38 C58.8,43.3 65.3,54.7 68,58" fill="none" stroke="#d0cfd3" stroke-width="1.5"/><path d="M-68,28 C-60,26 -50,29 -46,35 C-50,42 -58,50 -76,60 C-78,54 -76,44 -72,36 Z" fill="#d3d2d8" /><ellipse cx="-60" cy="39" rx="10" ry="2.6" fill="#c3c2cb" transform="rotate(-12 -60 39)"/><ellipse cx="-64" cy="56.5" rx="12" ry="2.6" fill="#c9c8d0" transform="rotate(-8 -64 56.5)"/><path d="M68,28 C60,26 50,29 46,35 C50,42 58,50 76,60 C78,54 76,44 72,36 Z" fill="#d3d2d8" /><ellipse cx="60" cy="39" rx="10" ry="2.6" fill="#c3c2cb" transform="rotate(12 60 39)"/><ellipse cx="64" cy="56.5" rx="12" ry="2.6" fill="#c9c8d0" transform="rotate(8 64 56.5)"/><path d="M-70,134 C-40,119 40,119 68,134 L65,201 C35,193 -35,193 -66,201 Z" fill="#d0cfd3" stroke="#c6c5ca" stroke-width="1"/><rect x="-77" y="150" width="13" height="125" rx="4" fill="#d1d0db" /><rect x="-74.5" y="160" width="5.5" height="110" rx="2.5" fill="#bebccd" /><rect x="-73.5" y="175" width="2" height="80" rx="1" fill="#aeabc2" /><rect x="64" y="150" width="13" height="125" rx="4" fill="#d1d0db" /><rect x="69" y="160" width="5.5" height="110" rx="2.5" fill="#bebccd" /><rect x="70" y="175" width="2" height="80" rx="1" fill="#aeabc2" /><ellipse cx="-3" cy="366" rx="37" ry="26" fill="#d6d5d8" stroke="#e6e6e8" stroke-width="2"/><rect x="-53" y="352" width="15" height="58" rx="2" fill="#d4d3d6" /><rect x="38" y="352" width="15" height="58" rx="2" fill="#d4d3d6" /><path d="M-72,394 C-70.3,396.2 -66,403.3 -62,407 C-58,410.7 -53.3,413.5 -48,416 C-42.7,418.5 -33,421 -30,422" fill="none" stroke="#7d87ac" stroke-width="1.6" opacity="0.85"/><path d="M72,394 C70.3,396.2 66,403.3 62,407 C58,410.7 53.3,413.5 48,416 C42.7,418.5 33,421 30,422" fill="none" stroke="#7d87ac" stroke-width="1.6" opacity="0.85"/><path d="M-54,410 C-30,416 30,416 54,410" fill="none" stroke="#d2d1d5" stroke-width="1.5"/><path d="M-25,196 C-25,180 -22,166 -16,162 C-8,156 12,150 24,144 C30,141 31,134 31,126" fill="none" stroke="#bdbcc2" stroke-width="4" stroke-linecap="round"/><path d="M-25,196 C-25,180 -22,166 -16,162 C-8,156 12,150 24,144 C30,141 31,134 31,126" fill="none" stroke="#d6d5d9" stroke-width="2" stroke-linecap="round"/><path d="M22,168 C22,158 24,150 26,145" fill="none" stroke="#bdbcc2" stroke-width="4" stroke-linecap="round"/><path d="M22,168 C22,158 24,150 26,145" fill="none" stroke="#d6d5d9" stroke-width="2" stroke-linecap="round"/><rect x="-33" y="195" width="16" height="36" rx="5" fill="#c4c3c7" /><rect x="13.5" y="167" width="16" height="46" rx="5" fill="#c4c3c7" /><path d="M-25,231 L-25,252 C-25,262 -38,266 -38,276" fill="none" stroke="#c2c1c5" stroke-width="3" stroke-linecap="round"/><path d="M22,213 L22,252 C22,262 35,266 35,276" fill="none" stroke="#c2c1c5" stroke-width="3" stroke-linecap="round"/><rect x="-42.5" y="276" width="8" height="30" rx="3" fill="#c6c5c9" /><rect x="31.5" y="276" width="8" height="28" rx="3" fill="#c6c5c9" /><path d="M-55,309 L55,309 L57,318 L57,334 L40,341 L-40,341 L-57,334 L-57,318 Z" fill="#cfd1d6" /><path d="M-40,330 L40,330 L30,345 L-30,345 Z" fill="#c4c6cc" /><rect x="-50" y="313" width="100" height="3" rx="1.5" fill="#b3b6bd" /><circle cx="-44.5" cy="306" r="6" fill="#b9bcc2" /><circle cx="-44.5" cy="306.5" r="4.4" fill="#1d2125" /><circle cx="-47.5" cy="338.5" r="4.5" fill="#34404a" /><circle cx="-35" cy="346.5" r="4.5" fill="#1d2125" /><rect x="-38" y="339" width="3" height="4" rx="0" fill="#1d2125" /><circle cx="44.5" cy="306" r="6" fill="#b9bcc2" /><circle cx="44.5" cy="306.5" r="4.4" fill="#1d2125" /><circle cx="47.5" cy="338.5" r="4.5" fill="#34404a" /><circle cx="35" cy="346.5" r="4.5" fill="#1d2125" /><rect x="35" y="339" width="3" height="4" rx="0" fill="#1d2125" /><rect x="-79.5" y="67.5" width="26" height="60" rx="11" ry="13" fill="#1f2427" stroke="#eef2f2" stroke-width="1.2"/><rect x="-75.5" y="72.5" width="18" height="50" rx="8" ry="10" fill="#232a2f"/><rect x="54.5" y="67.5" width="26" height="60" rx="11" ry="13" fill="#1f2427" stroke="#eef2f2" stroke-width="1.2"/><rect x="58.5" y="72.5" width="18" height="50" rx="8" ry="10" fill="#232a2f"/><rect x="-81" y="294" width="26" height="60" rx="11" ry="13" fill="#1f2427" stroke="#eef2f2" stroke-width="1.2"/><rect x="-77" y="299" width="18" height="50" rx="8" ry="10" fill="#232a2f"/><rect x="54" y="294.5" width="26" height="60" rx="11" ry="13" fill="#1f2427" stroke="#eef2f2" stroke-width="1.2"/><rect x="58" y="299.5" width="18" height="50" rx="8" ry="10" fill="#232a2f"/><path d="M-61,92 L-40.5,91 C-37.5,99 -38.5,110 -40,124 L-44,129 L-47.5,125 C-47,116 -48.5,107 -51.5,100 L-61,99 Z" fill="#7f838a" /><path d="M-56,93.5 L-42,93 C-40,101 -40.5,110 -41.5,122" fill="none" stroke="#a3a6ac" stroke-width="1.2"/><circle cx="-43.5" cy="126" r="4.2" fill="#5f636a" /><circle cx="-43.5" cy="126" r="2" fill="#3b3e43" /><polygon points="-64.5,84 -57,80.5 -52.5,86 -53,93 -60,96 -64.5,91" fill="#8e9197" /><circle cx="-58.3" cy="87.5" r="3.7" fill="#4f5358" /><circle cx="-58.3" cy="87.5" r="1.6" fill="#2a2d30" /><path d="M61,92 L40.5,91 C37.5,99 38.5,110 40,124 L44,129 L47.5,125 C47,116 48.5,107 51.5,100 L61,99 Z" fill="#7f838a" /><path d="M56,93.5 L42,93 C40,101 40.5,110 41.5,122" fill="none" stroke="#a3a6ac" stroke-width="1.2"/><circle cx="43.5" cy="126" r="4.2" fill="#5f636a" /><circle cx="43.5" cy="126" r="2" fill="#3b3e43" /><polygon points="64.5,84 57,80.5 52.5,86 53,93 60,96 64.5,91" fill="#8e9197" /><circle cx="58.3" cy="87.5" r="3.7" fill="#4f5358" /><circle cx="58.3" cy="87.5" r="1.6" fill="#2a2d30" /><path d="M-47,70 C-20,73 20,73 47,70 L46,86 C20,89 -20,89 -46,86 Z" fill="#68696d" /><path d="M-46,80 C-20,84 20,84 46,80 L45,92 C33,93 25,95 18,98 C10,101 -10,101 -18,98 C-25,95 -33,93 -45,92 Z" fill="#4f5054" /><path d="M-47,70 C-20,73 20,73 47,70 L47,73 C20,76 -20,76 -47,73 Z" fill="#7d7e82" /><rect x="-12" y="76" width="9" height="9" rx="2" fill="#c9cacd" /><circle cx="-7.5" cy="80.5" r="2.2" fill="#35373a" /><rect x="10" y="76" width="9" height="9" rx="2" fill="#c9cacd" /><rect x="12" y="78" width="5" height="4" rx="1" fill="#8a8b8f" /><ellipse cx="-4" cy="92" rx="5" ry="3" fill="#dadbdd" /><ellipse cx="8" cy="92" rx="4" ry="2.5" fill="#dadbdd" /><rect x="-25.3" y="95" width="2.6" height="34.5" rx="0" fill="#a2a4a8" /><rect x="-24.4" y="95" width="0.8" height="34.5" rx="0" fill="#e2e3e5" /><ellipse cx="-24" cy="135.5" rx="16.2" ry="8.8" fill="#3e4145" /><ellipse cx="-24" cy="135" rx="14.6" ry="7.4" fill="#b4b6b9" /><ellipse cx="-24" cy="133.3" rx="11.5" ry="4.2" fill="#e4e5e6" /><ellipse cx="-24" cy="136" rx="9" ry="4" fill="#9ea0a4" /><path d="M-37,136 L-29,135 L-27.5,143 L-20.5,143 L-19,135 L-11,136 Z" fill="#34373b" /><ellipse cx="-24" cy="137" rx="5.5" ry="3.2" fill="#2a2d31" /><path d="M-16,14 L25,14 L25,24 C25,27 22,28 18,28 L-11,28 C-14,28 -16,26 -16,23 Z" fill="#15181b" /><rect x="-17" y="10.5" width="42" height="3.8" rx="1.9" fill="#e9e9eb" stroke="#9c9ca0" stroke-width="0.6"/><path d="M22,13 C26,13 26,16 26,20 L26,26 L23,26 L23,16 Z" fill="#2d6cb8" /><rect x="-37" y="16" width="9.5" height="11" rx="1" fill="#efecd2" /><circle cx="-32.5" cy="20" r="2" fill="#e2d44a" /><rect x="-37" y="27" width="9.5" height="3" rx="0" fill="#222" /><path d="M-24,12 C-21,10 -17,11 -15,14 L-11,22 L-10,24 L-14,25 L-18,17 C-19,15 -21,15 -23,16 Z" fill="#4aa2dc" stroke="#2c76b0" stroke-width="0.7"/><rect x="-21.7" y="24" width="9.8" height="47.5" rx="1.5" fill="#4aa2dc" stroke="#2c76b0" stroke-width="0.8"/><rect x="-19.5" y="38" width="5.5" height="1.5" rx="0" fill="#2e79b6" /><rect x="-19.5" y="42" width="5.5" height="1.5" rx="0" fill="#2e79b6" /><rect x="-19.5" y="46" width="5.5" height="1.5" rx="0" fill="#2e79b6" /><rect x="-19.5" y="50" width="5.5" height="1.5" rx="0" fill="#2e79b6" /><rect x="-19.5" y="54" width="5.5" height="1.5" rx="0" fill="#2e79b6" /><circle cx="-16.8" cy="32" r="1.3" fill="#fff" /><circle cx="-16.8" cy="62" r="1.3" fill="#fff" /><ellipse cx="1.5" cy="20" rx="10" ry="4.5" fill="#1f3f78" /><circle cx="8" cy="17.5" r="2.3" fill="#e3a32c" /><rect x="-8.5" y="22.5" width="20" height="49.5" rx="2" fill="#e05a5c" stroke="#b8383c" stroke-width="0.8"/><circle cx="-4.5" cy="30" r="1.3" fill="#fff" /><circle cx="7.5" cy="30" r="1.3" fill="#fff" /><circle cx="-4.5" cy="46" r="1.3" fill="#fff" /><circle cx="7.5" cy="46" r="1.3" fill="#fff" /><circle cx="-4.5" cy="62" r="1.3" fill="#fff" /><circle cx="7.5" cy="62" r="1.3" fill="#fff" /><rect x="-11.5" y="27" width="4" height="6" rx="1.5" fill="#e4e4e4" stroke="#9a9a9e" stroke-width="0.5"/><rect x="-11.5" y="36" width="4" height="6" rx="1.5" fill="#e4e4e4" stroke="#9a9a9e" stroke-width="0.5"/><rect x="-11.5" y="45" width="4" height="6" rx="1.5" fill="#e4e4e4" stroke="#9a9a9e" stroke-width="0.5"/><rect x="-11.5" y="54" width="4" height="6" rx="1.5" fill="#e4e4e4" stroke="#9a9a9e" stroke-width="0.5"/><rect x="-11.5" y="63" width="4" height="6" rx="1.5" fill="#e4e4e4" stroke="#9a9a9e" stroke-width="0.5"/><path d="M11.5,36 C18,32 24,36 26,42 L27.5,62 C25,68 18,70 11.5,70 Z" fill="#efeff0" stroke="#a9a9ad" stroke-width="0.8"/><rect x="11" y="40" width="6" height="3.2" rx="1.5" fill="#3d3e42" /><rect x="11" y="47.5" width="6" height="3.2" rx="1.5" fill="#3d3e42" /><rect x="11" y="55" width="6" height="3.2" rx="1.5" fill="#3d3e42" /><rect x="11" y="62.5" width="6" height="3.2" rx="1.5" fill="#3d3e42" /><rect x="11" y="23" width="6" height="12" rx="2.5" fill="#2b2d31" /><rect x="-24" y="72" width="46" height="22" rx="4" fill="#6a6c70" /><rect x="-22" y="74" width="12" height="12" rx="3" fill="#2b2d30" /><ellipse cx="-3" cy="80" rx="6" ry="6" fill="#232528" /><rect x="6" y="74" width="14" height="16" rx="3" fill="#a5a7ab" /><rect x="10" y="80" width="5" height="5" rx="1" fill="#d8c84a" /><path d="M-10,88 L9,88 L9,112 L10,114 L9,136 L5,142 L-6,142 L-10,136 L-11,114 L-10,112 Z" fill="#bcc2ca" stroke="#8c939c" stroke-width="0.8"/><rect x="-9" y="92" width="17" height="1.4" rx="0" fill="#9aa1aa" /><rect x="-9" y="97" width="17" height="1.4" rx="0" fill="#9aa1aa" /><rect x="-9" y="102" width="17" height="1.4" rx="0" fill="#9aa1aa" /><rect x="-9" y="107" width="17" height="1.4" rx="0" fill="#9aa1aa" /><rect x="-9" y="112" width="17" height="1.4" rx="0" fill="#9aa1aa" /><rect x="-9" y="117" width="17" height="1.4" rx="0" fill="#9aa1aa" /><rect x="-9" y="122" width="17" height="1.4" rx="0" fill="#9aa1aa" /><rect x="-9" y="127" width="17" height="1.4" rx="0" fill="#9aa1aa" /><rect x="-9" y="132" width="17" height="1.4" rx="0" fill="#9aa1aa" /><rect x="-9" y="137" width="17" height="1.4" rx="0" fill="#9aa1aa" /><rect x="-6" y="90" width="4" height="48" rx="1.5" fill="#d4d9df" /><rect x="-60" y="95.5" width="116" height="6" rx="0" fill="#cfdb2c" /><rect x="-60" y="95.5" width="116" height="1.8" rx="0" fill="#e4ec60" /><rect x="-27" y="92" width="8" height="12" rx="2" fill="#1d1f22" /><rect x="17" y="92" width="8" height="12" rx="2" fill="#1d1f22" /><rect x="-4" y="141" width="8.5" height="149" rx="2" fill="#bcd03c" /><rect x="-4" y="141" width="1.8" height="149" rx="0" fill="#7d952a" /><rect x="2.7" y="141" width="1.8" height="149" rx="0" fill="#7d952a" /><rect x="-1.2" y="141" width="2.5" height="149" rx="0" fill="#d2e262" /><rect x="-6.5" y="154" width="13.5" height="3.5" rx="1.5" fill="#7d952a" /><rect x="-5" y="149" width="10" height="5" rx="1.5" fill="#bcd03c" /><rect x="-6.5" y="218" width="13.5" height="3.5" rx="1.5" fill="#7d952a" /><rect x="-5" y="213" width="10" height="5" rx="1.5" fill="#bcd03c" /><rect x="-6.5" y="282" width="13.5" height="3.5" rx="1.5" fill="#7d952a" /><rect x="-5" y="277" width="10" height="5" rx="1.5" fill="#bcd03c" /><path d="M-3.8,283 L4.3,283 L7,300 L8,312 L-8,312 L-7,300 Z" fill="#bcd03c" stroke="#7d952a" stroke-width="0.8"/><path d="M-20,307 C-16,302 -10,300 -6.5,300 L-7.5,313 L-19,313 Z" fill="#737881" /><path d="M19,307 C15,302 9,300 6.5,300 L7.5,313 L18,313 Z" fill="#737881" /><path d="M-14.8,312 C-14.8,316 -12,318 -12,319 L12,319 C12,318 14.8,316 14.8,312 Z" fill="#c6da3a" /><path d="M-14.8,318 L11.5,318 L12,330 C10,334 -12,335 -14.8,330 Z" fill="#cadf3c" stroke="#8ca024" stroke-width="0.8"/><ellipse cx="-1" cy="324" rx="7" ry="5" fill="#d8ea5a" /><rect x="-52" y="321.5" width="30" height="5.5" rx="0" fill="#cadf3c" /><rect x="19" y="322" width="30" height="5" rx="0" fill="#cadf3c" /><rect x="-52" y="321.5" width="30" height="1.6" rx="0" fill="#e0ee70" /><rect x="19" y="322" width="30" height="1.6" rx="0" fill="#e0ee70" /><rect x="-22.5" y="317.5" width="8" height="12.5" rx="2.5" fill="#22262b" /><rect x="11.5" y="317.5" width="8" height="12.5" rx="2.5" fill="#22262b" /><rect x="-60" y="317.5" width="8" height="14" rx="2.5" fill="#cadf3c" /><rect x="49.5" y="317" width="8" height="14.5" rx="2.5" fill="#cadf3c" /></g><g fill="#231f20"><text x="250.5" y="179.6" font-size="17" font-weight="normal" text-anchor="start">Gearsets</text><line x1="287.6" y1="187" x2="313.4" y2="256.7" stroke="#231f20" stroke-width="1.1"/><polygon points="317,266.5 309.7,256.9 316.3,254.5" fill="#231f20" /><text x="169" y="232" font-size="17" font-weight="normal" text-anchor="start">Transaxle</text><line x1="247.8" y1="233" x2="299.8" y2="261.5" stroke="#231f20" stroke-width="1.1"/><polygon points="309,266.5 297.2,264 300.6,257.9" fill="#231f20" /><text x="434.3" y="231.9" font-size="17" font-weight="normal" text-anchor="start">Engine</text><line x1="430.5" y1="234.5" x2="378.3" y2="261.7" stroke="#231f20" stroke-width="1.1"/><polygon points="369,266.5 377.6,258.1 380.8,264.3" fill="#231f20" /><text x="368" y="351" font-size="17" font-weight="normal" text-anchor="start">Clutch</text><line x1="368" y1="336" x2="337.9" y2="285" stroke="#231f20" stroke-width="1.1"/><polygon points="332.6,276 341.5,284.1 335.4,287.7" fill="#231f20" /><text x="283.6" y="368.7" font-size="17" font-weight="normal" text-anchor="start">Front drive</text><text x="283.6" y="388.4" font-size="17" font-weight="normal" text-anchor="start">axles</text><line x1="330.8" y1="350.4" x2="307.1" y2="304.3" stroke="#231f20" stroke-width="1.1"/><polygon points="302.3,295 310.7,303.6 304.4,306.8" fill="#231f20" /><line x1="330.8" y1="350.4" x2="366.8" y2="303.3" stroke="#231f20" stroke-width="1.1"/><polygon points="373.2,295 369,306.3 363.4,302" fill="#231f20" /><text x="438.8" y="413.2" font-size="17" font-weight="normal" text-anchor="start">Dead axle</text><line x1="435.5" y1="418" x2="367.7" y2="505.9" stroke="#231f20" stroke-width="1.1"/><polygon points="361.3,514.2 365.6,503 371.1,507.2" fill="#231f20" /><text x="895.8" y="197.3" font-size="17" font-weight="normal" text-anchor="start">Engine</text><line x1="892.8" y1="200" x2="828.7" y2="234.1" stroke="#231f20" stroke-width="1.1"/><polygon points="819.4,239 827.9,230.5 831.2,236.7" fill="#231f20" /><text x="926.7" y="238.4" font-size="17" font-weight="normal" text-anchor="start">Clutch</text><line x1="922.7" y1="238.8" x2="840" y2="264.4" stroke="#231f20" stroke-width="1.1"/><polygon points="830,267.5 840,260.8 842,267.4" fill="#231f20" /><text x="920.7" y="350.1" font-size="17" font-weight="normal" text-anchor="start">Transmission</text><line x1="915.8" y1="346.5" x2="832.2" y2="317.6" stroke="#231f20" stroke-width="1.1"/><polygon points="822.3,314.2 834.3,314.6 832,321.3" fill="#231f20" /><text x="834" y="369.5" font-size="17" font-weight="normal" text-anchor="start">Gearsets</text><line x1="866.9" y1="352.5" x2="837.1" y2="302.2" stroke="#231f20" stroke-width="1.1"/><polygon points="831.8,293.2 840.7,301.3 834.6,304.9" fill="#231f20" /><text x="876.3" y="403.4" font-size="17" font-weight="normal" text-anchor="start">Drive shaft</text><line x1="871.9" y1="402.6" x2="834.3" y2="421.8" stroke="#231f20" stroke-width="1.1"/><polygon points="825,426.6 833.6,418.2 836.8,424.5" fill="#231f20" /><text x="928.7" y="453.2" font-size="17" font-weight="normal" text-anchor="start">Differential</text><line x1="925.3" y1="455.8" x2="826.7" y2="510.9" stroke="#231f20" stroke-width="1.1"/><polygon points="817.5,516 825.8,507.3 829.2,513.4" fill="#231f20" /><text x="730.9" y="455.8" font-size="17" font-weight="normal" text-anchor="start">Drive axle</text><line x1="773.8" y1="461" x2="780" y2="505.6" stroke="#231f20" stroke-width="1.1"/><polygon points="781.4,516 776.4,505.1 783.3,504.1" fill="#231f20" /><text x="769.9" y="595" font-size="17" font-weight="normal" text-anchor="start">Drive tires</text><line x1="811.8" y1="578.9" x2="764" y2="554.2" stroke="#231f20" stroke-width="1.1"/><polygon points="754.7,549.4 766.5,551.6 763.3,557.8" fill="#231f20" /><line x1="811.8" y1="578.9" x2="865.1" y2="553.9" stroke="#231f20" stroke-width="1.1"/><polygon points="874.6,549.4 865.7,557.5 862.7,551.1" fill="#231f20" /><text x="457.8" y="982" font-size="17" font-weight="normal" text-anchor="start">Engine</text><line x1="450.8" y1="980.8" x2="352" y2="1036.5" stroke="#231f20" stroke-width="1.1"/><polygon points="342.9,1041.7 351.2,1033 354.6,1039.1" fill="#231f20" /><text x="229.4" y="1144.3" font-size="17" font-weight="normal" text-anchor="start">Drive axles</text><line x1="275.8" y1="1128.7" x2="301.3" y2="1089.5" stroke="#231f20" stroke-width="1.1"/><polygon points="307,1080.7 303.7,1092.2 297.8,1088.4" fill="#231f20" /><line x1="275.8" y1="1128.7" x2="370.1" y2="1083.9" stroke="#231f20" stroke-width="1.1"/><polygon points="379.6,1079.4 370.7,1087.5 367.7,1081.2" fill="#231f20" /><text x="435.7" y="1161.1" font-size="17" font-weight="normal" text-anchor="start">Transaxle</text><line x1="431.5" y1="1152.4" x2="355.1" y2="1116.7" stroke="#231f20" stroke-width="1.1"/><polygon points="345.6,1112.2 357.5,1113.9 354.5,1120.2" fill="#231f20" /><text x="933.7" y="890.2" font-size="17" font-weight="normal" text-anchor="start">Drive shaft</text><line x1="928.5" y1="892" x2="828.6" y2="948.2" stroke="#231f20" stroke-width="1.1"/><polygon points="819.5,953.4 827.8,944.7 831.2,950.8" fill="#231f20" /><text x="679.9" y="941" font-size="17" font-weight="normal" text-anchor="start">Front drive axles</text><line x1="787" y1="921.7" x2="780.7" y2="866.4" stroke="#231f20" stroke-width="1.1"/><polygon points="779.5,856 784.3,867 777.3,867.8" fill="#231f20" /><line x1="787" y1="921.7" x2="843.7" y2="860" stroke="#231f20" stroke-width="1.1"/><polygon points="850.8,852.3 845.6,863.1 840.4,858.4" fill="#231f20" /><text x="837.2" y="998.6" font-size="17" font-weight="normal" text-anchor="start">Rear drive axles</text><line x1="836.6" y1="1004" x2="787.1" y2="1064.2" stroke="#231f20" stroke-width="1.1"/><polygon points="780.4,1072.3 785,1061.2 790.4,1065.6" fill="#231f20" /><line x1="836.6" y1="1004" x2="843.8" y2="1061.9" stroke="#231f20" stroke-width="1.1"/><polygon points="845.1,1072.3 840.2,1061.3 847.2,1060.5" fill="#231f20" /><text x="190" y="656.3" font-size="17" font-weight="bold" text-anchor="start">A<tspan dx="2" dy="-0.8" font-weight="normal" font-size="20">–</tspan><tspan dx="2.6" dy="0.8">Front-Engine, Front-Wheel Drive</tspan></text><text x="666.5" y="659.5" font-size="17" font-weight="bold" text-anchor="start">B<tspan dx="2" dy="-0.8" font-weight="normal" font-size="20">–</tspan><tspan dx="2.6" dy="0.8">Front-Engine, Rear-Wheel Drive</tspan></text><text x="199" y="1216.3" font-size="17" font-weight="bold" text-anchor="start">C<tspan dx="2" dy="-0.8" font-weight="normal" font-size="20">–</tspan><tspan dx="2.6" dy="0.8">Mid-Engine, Rear-Wheel Drive</tspan></text><text x="732" y="1214.1" font-size="17" font-weight="bold" text-anchor="start">D<tspan dx="2" dy="-0.8" font-weight="normal" font-size="20">–</tspan><tspan dx="2.6" dy="0.8">All-Wheel Drive</tspan></text></g></svg><div class="cap"><b>Figure 1-18.</b> Note the location of the engine in different drive train designs. A—Front-engine, front-wheel drive is the most common<br>type of drive train found on modern passenger vehicles. B—Front-engine, rear-wheel drive is often used on large luxury cars and<br>pickup trucks. C—Mid-engine, rear-wheel drive is found on a few high performance sports cars. D—All-wheel drive is superior to<br>front- or rear-wheel drive on wet or snow-covered roads.</div>
</body></html>
